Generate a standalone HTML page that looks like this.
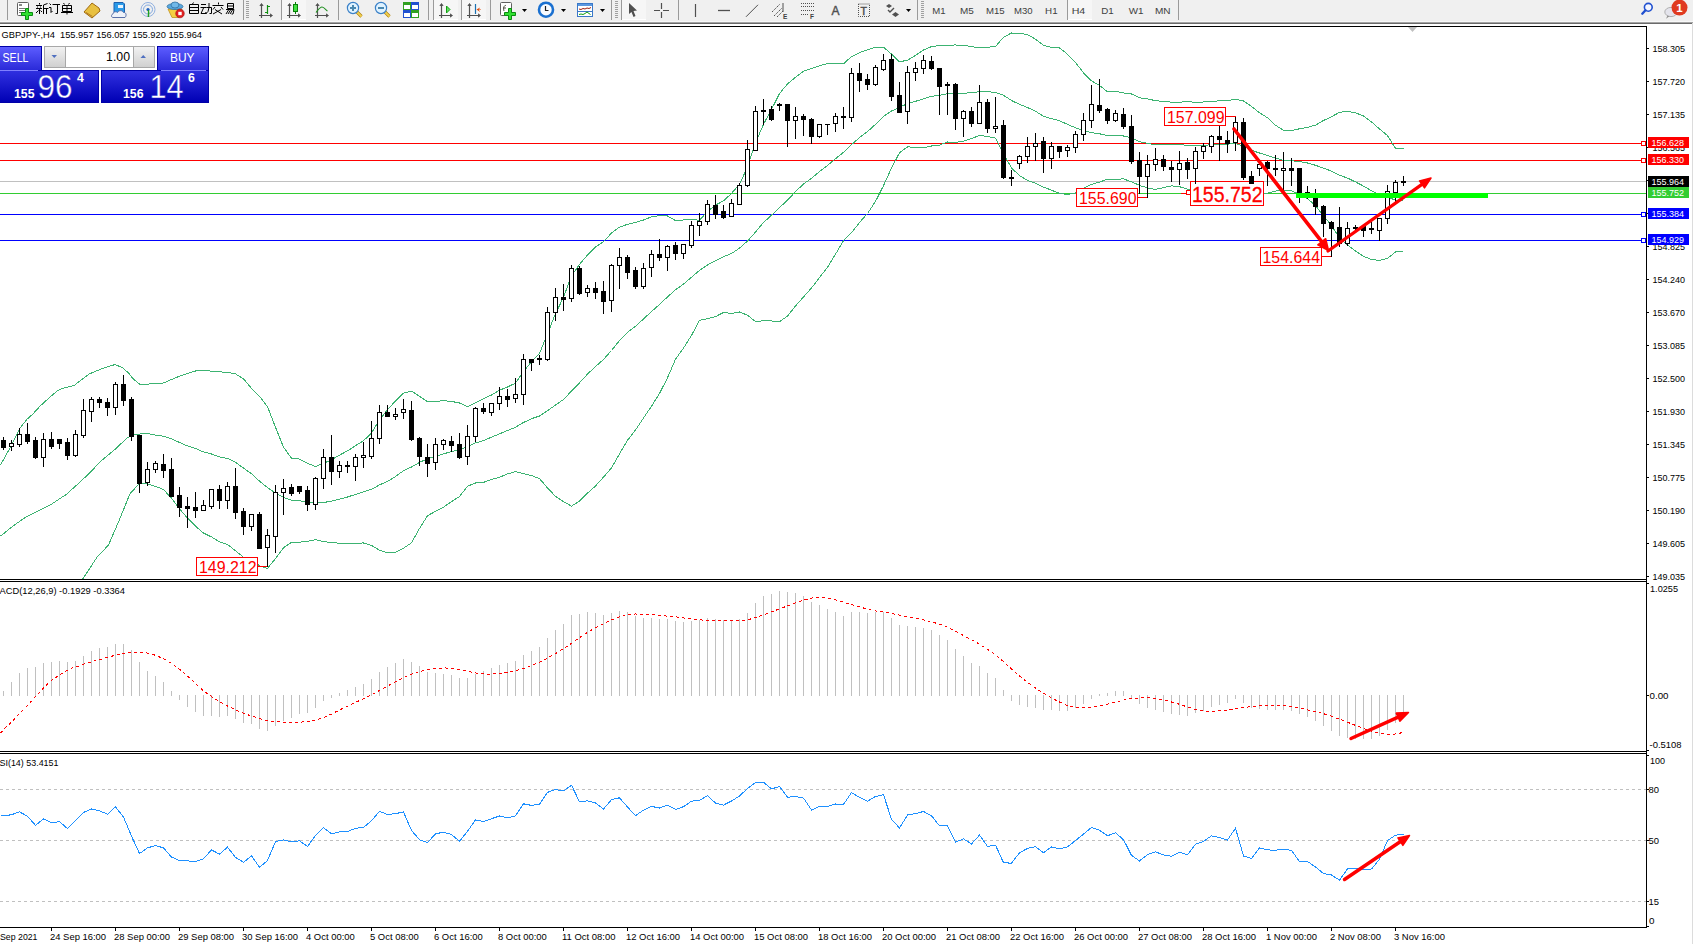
<!DOCTYPE html><html><head><meta charset="utf-8"><style>html,body{margin:0;padding:0;width:1693px;height:944px;overflow:hidden;background:#fff}text{font-family:"Liberation Sans",sans-serif}</style></head><body><svg width="1693" height="944" viewBox="0 0 1693 944" style="position:absolute;left:0;top:0;font-family:'Liberation Sans',sans-serif">
<defs><clipPath id="cm"><rect x="0" y="27" width="1646" height="552"/></clipPath><clipPath id="cd"><rect x="0" y="582" width="1646" height="169"/></clipPath><clipPath id="cr"><rect x="0" y="754" width="1646" height="173"/></clipPath><linearGradient id="gsell" x1="0" y1="0" x2="0" y2="1"><stop offset="0" stop-color="#5c5cff"/><stop offset="1" stop-color="#2a2ad8"/></linearGradient><linearGradient id="gsell2" x1="0" y1="0" x2="0" y2="1"><stop offset="0" stop-color="#3030e0"/><stop offset="1" stop-color="#0000b4"/></linearGradient><linearGradient id="gbtn" x1="0" y1="0" x2="0" y2="1"><stop offset="0" stop-color="#f2f2f2"/><stop offset="1" stop-color="#d0d0d0"/></linearGradient><linearGradient id="gtb" x1="0" y1="0" x2="0" y2="1"><stop offset="0" stop-color="#c8c8c8"/><stop offset="1" stop-color="#686868"/></linearGradient></defs>
<rect x="0" y="0" width="1693" height="944" fill="#ffffff"/>
<rect x="0" y="0" width="1693" height="22" fill="#f0f0f0"/>
<rect x="0" y="21" width="1693" height="1" fill="#f8f8f8"/><rect x="0" y="22" width="1693" height="1" fill="#a4a4a4"/><rect x="0" y="23" width="1693" height="1" fill="#6a6a6a"/>
<rect x="1692" y="23" width="1" height="921" fill="#dcdcdc"/>
<g clip-path="url(#cm)" shape-rendering="crispEdges">
<rect x="0" y="143" width="1646" height="1" fill="#ff0000"/>
<rect x="0" y="160" width="1646" height="1" fill="#ff0000"/>
<rect x="0" y="181" width="1646" height="1" fill="#c0c0c0"/>
<rect x="0" y="193" width="1646" height="1" fill="#32cd32"/>
<rect x="0" y="214" width="1646" height="1" fill="#0000ff"/>
<rect x="0" y="240" width="1646" height="1" fill="#0000ff"/>
</g>
<g clip-path="url(#cm)">
<polyline points="0.5,464.8 5.6,455.9 11.9,444.5 19.6,428.6 27.2,419.0 32.3,414.6 39.9,406.3 48.8,398.1 57.7,390.5 64.0,387.9 74.2,385.4 81.8,379.6 89.4,373.9 97.1,370.7 104.7,367.6 114.9,364.6 122.5,367.6 128.8,373.3 132.6,378.4 140.3,384.7 145.4,384.1 155.5,383.8 163.5,383.0 171.5,379.5 179.5,376.2 187.5,373.6 195.5,371.0 203.5,370.6 211.5,371.1 219.5,371.8 227.5,372.4 235.5,373.9 243.5,378.9 251.5,388.3 259.5,396.3 267.5,406.7 275.5,427.3 283.5,447.1 291.5,458.2 299.5,459.1 307.5,463.3 315.5,466.5 323.5,463.4 331.5,459.8 339.5,455.1 347.5,450.9 355.5,445.7 363.5,440.7 371.5,433.1 379.5,419.7 387.5,409.8 395.5,400.8 403.5,393.2 411.5,391.1 419.5,396.3 427.5,401.8 435.5,401.4 443.5,400.7 451.5,401.4 459.5,403.0 467.5,406.7 475.5,402.8 483.5,398.8 491.5,395.0 499.5,390.2 507.5,387.0 515.5,383.1 523.5,371.4 531.5,361.9 539.5,353.4 547.5,333.8 555.5,313.6 563.5,297.3 571.5,275.9 579.5,264.4 587.5,255.0 595.5,246.9 603.5,241.8 611.5,233.0 619.5,227.1 627.5,224.3 635.5,222.4 643.5,220.0 651.5,216.8 659.5,215.6 667.5,216.0 675.5,220.5 683.5,220.0 691.5,219.1 699.5,220.4 707.5,211.3 715.5,205.1 723.5,200.9 731.5,193.4 739.5,184.2 747.5,167.0 755.5,142.7 763.5,124.3 771.5,109.4 779.5,93.5 787.5,84.0 795.5,77.2 803.5,71.3 811.5,68.4 819.5,65.7 827.5,63.6 835.5,63.1 843.5,63.8 851.5,56.6 859.5,52.7 867.5,49.7 875.5,47.2 883.5,47.1 891.5,54.1 899.5,61.9 907.5,60.1 915.5,55.5 923.5,50.0 931.5,46.6 939.5,45.6 947.5,45.1 955.5,45.0 963.5,45.3 971.5,46.7 979.5,47.7 987.5,47.2 995.5,46.5 1003.5,37.2 1011.5,33.0 1019.5,33.2 1027.5,34.6 1035.5,39.2 1043.5,45.3 1051.5,47.3 1059.5,47.9 1067.5,54.2 1075.5,62.4 1083.5,72.9 1091.5,80.9 1099.5,85.4 1107.5,91.9 1115.5,91.2 1123.5,93.0 1131.5,94.0 1139.5,97.8 1147.5,98.8 1155.5,100.7 1163.5,101.4 1171.5,102.2 1179.5,102.1 1187.5,101.8 1195.5,102.2 1203.5,102.0 1211.5,101.4 1219.5,100.8 1227.5,100.7 1235.5,99.3 1243.5,101.0 1251.5,106.4 1259.5,112.8 1267.5,117.7 1275.5,125.2 1283.5,130.4 1291.5,130.6 1299.5,128.8 1307.5,127.4 1315.5,125.1 1323.5,120.5 1331.5,116.7 1339.5,112.4 1347.5,111.3 1355.5,112.8 1363.5,115.9 1371.5,121.9 1379.5,129.0 1387.5,135.6 1395.5,148.3 1403.5,148.8" fill="none" stroke="#3cb371" stroke-width="1" shape-rendering="crispEdges"/>
<polyline points="0.5,536.1 13.2,525.9 25.9,517.0 42.4,508.8 51.3,504.3 66.6,494.2 80.6,481.5 89.4,473.2 100.9,461.1 114.9,449.5 127.6,437.5 135.2,434.3 147.5,433.6 155.5,435.1 163.5,436.2 171.5,438.9 179.5,442.5 187.5,445.9 195.5,448.5 203.5,451.9 211.5,454.0 219.5,456.9 227.5,458.4 235.5,462.3 243.5,468.1 251.5,473.8 259.5,481.1 267.5,487.6 275.5,493.0 283.5,497.4 291.5,500.2 299.5,500.6 307.5,502.4 315.5,503.1 323.5,502.5 331.5,501.2 339.5,499.2 347.5,497.0 355.5,494.4 363.5,491.9 371.5,489.3 379.5,484.9 387.5,481.4 395.5,476.5 403.5,470.7 411.5,467.0 419.5,462.4 427.5,458.7 435.5,456.3 443.5,453.9 451.5,451.5 459.5,449.8 467.5,446.4 475.5,442.9 483.5,440.6 491.5,437.2 499.5,433.8 507.5,430.5 515.5,427.3 523.5,422.5 531.5,418.7 539.5,416.0 547.5,410.8 555.5,405.0 563.5,399.5 571.5,391.0 579.5,382.8 587.5,374.1 595.5,366.5 603.5,359.5 611.5,350.5 619.5,340.5 627.5,332.3 635.5,326.2 643.5,319.0 651.5,311.5 659.5,304.5 667.5,296.9 675.5,289.8 683.5,284.1 691.5,277.2 699.5,270.4 707.5,265.0 715.5,260.8 723.5,256.7 731.5,253.5 739.5,248.1 747.5,241.1 755.5,232.1 763.5,222.5 771.5,215.2 779.5,207.6 787.5,200.1 795.5,191.6 803.5,184.1 811.5,178.2 819.5,171.6 827.5,165.5 835.5,158.7 843.5,152.3 851.5,144.7 859.5,137.6 867.5,131.6 875.5,124.3 883.5,116.4 891.5,111.0 899.5,107.4 907.5,103.5 915.5,101.3 923.5,98.9 931.5,96.3 939.5,95.3 947.5,93.6 955.5,93.7 963.5,93.3 971.5,92.7 979.5,91.6 987.5,91.8 995.5,92.3 1003.5,95.3 1011.5,100.5 1019.5,104.4 1027.5,107.5 1035.5,111.3 1043.5,116.2 1051.5,118.7 1059.5,120.7 1067.5,124.4 1075.5,127.7 1083.5,130.7 1091.5,132.6 1099.5,133.8 1107.5,135.5 1115.5,135.2 1123.5,136.0 1131.5,137.9 1139.5,141.6 1147.5,143.3 1155.5,145.0 1163.5,144.5 1171.5,144.1 1179.5,144.4 1187.5,145.5 1195.5,145.9 1203.5,145.3 1211.5,144.8 1219.5,144.3 1227.5,144.1 1235.5,143.5 1243.5,146.3 1251.5,150.3 1259.5,153.0 1267.5,155.4 1275.5,158.2 1283.5,160.3 1291.5,160.7 1299.5,161.6 1307.5,163.0 1315.5,165.3 1323.5,168.2 1331.5,171.1 1339.5,175.1 1347.5,178.1 1355.5,181.9 1363.5,186.1 1371.5,190.7 1379.5,194.7 1387.5,197.1 1395.5,200.1 1403.5,200.3" fill="none" stroke="#3cb371" stroke-width="1" shape-rendering="crispEdges"/>
<polyline points="82.5,579.3 97.1,557.1 108.5,545.0 118.7,521.5 130.1,493.5 139.0,484.0 144.1,483.1 155.5,486.4 163.5,489.5 171.5,498.2 179.5,508.9 187.5,518.1 195.5,526.1 203.5,533.1 211.5,536.9 219.5,541.9 227.5,544.5 235.5,550.7 243.5,557.3 251.5,559.4 259.5,565.9 267.5,568.4 275.5,558.6 283.5,547.7 291.5,542.3 299.5,542.2 307.5,541.4 315.5,539.7 323.5,541.6 331.5,542.6 339.5,543.2 347.5,543.2 355.5,543.1 363.5,543.0 371.5,545.5 379.5,550.1 387.5,553.0 395.5,552.3 403.5,548.2 411.5,542.8 419.5,528.5 427.5,515.7 435.5,511.3 443.5,507.2 451.5,501.6 459.5,496.6 467.5,486.2 475.5,483.0 483.5,482.4 491.5,479.5 499.5,477.3 507.5,473.9 515.5,471.6 523.5,473.6 531.5,475.5 539.5,478.6 547.5,487.9 555.5,496.4 563.5,501.7 571.5,506.1 579.5,501.1 587.5,493.1 595.5,486.0 603.5,477.1 611.5,468.0 619.5,453.9 627.5,440.3 635.5,430.0 643.5,418.0 651.5,406.2 659.5,393.5 667.5,377.8 675.5,359.2 683.5,348.1 691.5,335.4 699.5,320.4 707.5,318.7 715.5,316.6 723.5,312.5 731.5,313.5 739.5,312.0 747.5,315.2 755.5,321.5 763.5,320.8 771.5,321.0 779.5,321.7 787.5,316.1 795.5,305.9 803.5,297.0 811.5,288.0 819.5,277.5 827.5,267.3 835.5,254.2 843.5,240.8 851.5,232.8 859.5,222.5 867.5,213.5 875.5,201.4 883.5,185.7 891.5,167.9 899.5,152.8 907.5,146.9 915.5,147.2 923.5,147.8 931.5,146.0 939.5,145.1 947.5,142.0 955.5,142.3 963.5,141.3 971.5,138.6 979.5,135.4 987.5,136.4 995.5,138.1 1003.5,153.4 1011.5,168.1 1019.5,175.5 1027.5,180.4 1035.5,183.3 1043.5,187.1 1051.5,190.2 1059.5,193.4 1067.5,194.6 1075.5,193.0 1083.5,188.5 1091.5,184.3 1099.5,182.2 1107.5,179.1 1115.5,179.3 1123.5,178.9 1131.5,181.8 1139.5,185.4 1147.5,187.9 1155.5,189.4 1163.5,187.6 1171.5,185.9 1179.5,186.7 1187.5,189.2 1195.5,189.7 1203.5,188.7 1211.5,188.3 1219.5,187.7 1227.5,187.5 1235.5,187.7 1243.5,191.6 1251.5,194.1 1259.5,193.1 1267.5,193.1 1275.5,191.1 1283.5,190.1 1291.5,190.8 1299.5,194.3 1307.5,198.7 1315.5,205.6 1323.5,215.9 1331.5,225.5 1339.5,237.8 1347.5,244.9 1355.5,251.1 1363.5,256.3 1371.5,259.6 1379.5,260.4 1387.5,258.5 1395.5,251.9 1403.5,251.7" fill="none" stroke="#3cb371" stroke-width="1" shape-rendering="crispEdges"/>
</g>
<g clip-path="url(#cm)">
<polyline points="1225.5,116.5 1235.5,116.5 1235.5,121.5" fill="none" stroke="#ff0000" stroke-width="1" shape-rendering="crispEdges"/>
<rect x="1164.5" y="107.5" width="61" height="18" fill="#fff" stroke="#ff0000" stroke-width="1" shape-rendering="crispEdges"/>
<text x="1167" y="123" font-size="16.4" fill="#ff0000" textLength="57.5" lengthAdjust="spacingAndGlyphs" xml:space="preserve">157.099</text>
<polyline points="1137.5,197.5 1147.5,197.5 1147.5,193.5" fill="none" stroke="#ff0000" stroke-width="1" shape-rendering="crispEdges"/>
<rect x="1076.5" y="188.5" width="61" height="18" fill="#fff" stroke="#ff0000" stroke-width="1" shape-rendering="crispEdges"/>
<text x="1079" y="204" font-size="16.4" fill="#ff0000" textLength="57.5" lengthAdjust="spacingAndGlyphs" xml:space="preserve">155.690</text>
<polyline points="1180.5,193.5 1190.5,193.5" fill="none" stroke="#ff0000" stroke-width="1" shape-rendering="crispEdges"/>
<rect x="1186.5" y="190.5" width="4" height="4" fill="#fff" stroke="#ff0000" stroke-width="1" shape-rendering="crispEdges"/>
<rect x="1190.5" y="181.5" width="73" height="24" fill="#fff" stroke="#ff0000" stroke-width="1" shape-rendering="crispEdges"/>
<text stroke="#ff0000" stroke-width="0.3" x="1192" y="202" font-size="21.5" fill="#ff0000" textLength="70.5" lengthAdjust="spacingAndGlyphs" xml:space="preserve">155.752</text>
<polyline points="1321.5,256.5 1331.5,256.5 1331.5,252.5" fill="none" stroke="#ff0000" stroke-width="1" shape-rendering="crispEdges"/>
<rect x="1260.5" y="247.5" width="61" height="18" fill="#fff" stroke="#ff0000" stroke-width="1" shape-rendering="crispEdges"/>
<text x="1262.5" y="263" font-size="16.4" fill="#ff0000" textLength="57.5" lengthAdjust="spacingAndGlyphs" xml:space="preserve">154.644</text>
<polyline points="257.5,566.5 267.5,566.5" fill="none" stroke="#ff0000" stroke-width="1" shape-rendering="crispEdges"/>
<rect x="196.5" y="557.5" width="61" height="18" fill="#fff" stroke="#ff0000" stroke-width="1" shape-rendering="crispEdges"/>
<text x="199" y="573" font-size="16.4" fill="#ff0000" textLength="57.5" lengthAdjust="spacingAndGlyphs" xml:space="preserve">149.212</text>
</g>
<g clip-path="url(#cm)" shape-rendering="crispEdges">
<rect x="3" y="437" width="1" height="13" fill="#000"/>
<rect x="1" y="440" width="5" height="8" fill="#000"/>
<rect x="11" y="440" width="1" height="11" fill="#000"/>
<rect x="9" y="443" width="5" height="4" fill="#000"/>
<rect x="10" y="444" width="3" height="2" fill="#fff"/>
<rect x="19" y="428" width="1" height="19" fill="#000"/>
<rect x="17" y="434" width="5" height="11" fill="#000"/>
<rect x="18" y="435" width="3" height="9" fill="#fff"/>
<rect x="27" y="423" width="1" height="21" fill="#000"/>
<rect x="25" y="434" width="5" height="8" fill="#000"/>
<rect x="35" y="437" width="1" height="22" fill="#000"/>
<rect x="33" y="440" width="5" height="18" fill="#000"/>
<rect x="43" y="433" width="1" height="34" fill="#000"/>
<rect x="41" y="439" width="5" height="19" fill="#000"/>
<rect x="42" y="440" width="3" height="17" fill="#fff"/>
<rect x="51" y="432" width="1" height="17" fill="#000"/>
<rect x="49" y="439" width="5" height="8" fill="#000"/>
<rect x="59" y="439" width="1" height="10" fill="#000"/>
<rect x="57" y="439" width="5" height="5" fill="#000"/>
<rect x="67" y="438" width="1" height="22" fill="#000"/>
<rect x="65" y="442" width="5" height="14" fill="#000"/>
<rect x="75" y="430" width="1" height="27" fill="#000"/>
<rect x="73" y="434" width="5" height="22" fill="#000"/>
<rect x="74" y="435" width="3" height="20" fill="#fff"/>
<rect x="83" y="399" width="1" height="39" fill="#000"/>
<rect x="81" y="410" width="5" height="26" fill="#000"/>
<rect x="82" y="411" width="3" height="24" fill="#fff"/>
<rect x="91" y="397" width="1" height="25" fill="#000"/>
<rect x="89" y="399" width="5" height="13" fill="#000"/>
<rect x="90" y="400" width="3" height="11" fill="#fff"/>
<rect x="99" y="397" width="1" height="11" fill="#000"/>
<rect x="97" y="399" width="5" height="4" fill="#000"/>
<rect x="107" y="398" width="1" height="18" fill="#000"/>
<rect x="105" y="402" width="5" height="6" fill="#000"/>
<rect x="115" y="382" width="1" height="33" fill="#000"/>
<rect x="113" y="384" width="5" height="24" fill="#000"/>
<rect x="114" y="385" width="3" height="22" fill="#fff"/>
<rect x="123" y="375" width="1" height="31" fill="#000"/>
<rect x="121" y="384" width="5" height="17" fill="#000"/>
<rect x="131" y="397" width="1" height="44" fill="#000"/>
<rect x="129" y="399" width="5" height="38" fill="#000"/>
<rect x="139" y="435" width="1" height="58" fill="#000"/>
<rect x="137" y="435" width="5" height="49" fill="#000"/>
<rect x="147" y="462" width="1" height="24" fill="#000"/>
<rect x="145" y="469" width="5" height="14" fill="#000"/>
<rect x="146" y="470" width="3" height="12" fill="#fff"/>
<rect x="155" y="461" width="1" height="12" fill="#000"/>
<rect x="153" y="463" width="5" height="7" fill="#000"/>
<rect x="154" y="464" width="3" height="5" fill="#fff"/>
<rect x="163" y="454" width="1" height="24" fill="#000"/>
<rect x="161" y="464" width="5" height="7" fill="#000"/>
<rect x="171" y="458" width="1" height="39" fill="#000"/>
<rect x="169" y="469" width="5" height="28" fill="#000"/>
<rect x="179" y="487" width="1" height="30" fill="#000"/>
<rect x="177" y="495" width="5" height="13" fill="#000"/>
<rect x="187" y="497" width="1" height="31" fill="#000"/>
<rect x="185" y="506" width="5" height="3" fill="#000"/>
<rect x="195" y="492" width="1" height="26" fill="#000"/>
<rect x="193" y="507" width="5" height="4" fill="#000"/>
<rect x="203" y="500" width="1" height="11" fill="#000"/>
<rect x="201" y="505" width="5" height="6" fill="#000"/>
<rect x="202" y="506" width="3" height="4" fill="#fff"/>
<rect x="211" y="489" width="1" height="20" fill="#000"/>
<rect x="209" y="489" width="5" height="18" fill="#000"/>
<rect x="210" y="490" width="3" height="16" fill="#fff"/>
<rect x="219" y="485" width="1" height="24" fill="#000"/>
<rect x="217" y="489" width="5" height="12" fill="#000"/>
<rect x="227" y="482" width="1" height="27" fill="#000"/>
<rect x="225" y="486" width="5" height="15" fill="#000"/>
<rect x="226" y="487" width="3" height="13" fill="#fff"/>
<rect x="235" y="468" width="1" height="51" fill="#000"/>
<rect x="233" y="486" width="5" height="27" fill="#000"/>
<rect x="243" y="508" width="1" height="27" fill="#000"/>
<rect x="241" y="511" width="5" height="16" fill="#000"/>
<rect x="251" y="514" width="1" height="17" fill="#000"/>
<rect x="249" y="514" width="5" height="13" fill="#000"/>
<rect x="250" y="515" width="3" height="11" fill="#fff"/>
<rect x="259" y="512" width="1" height="37" fill="#000"/>
<rect x="257" y="514" width="5" height="35" fill="#000"/>
<rect x="267" y="529" width="1" height="38" fill="#000"/>
<rect x="265" y="535" width="5" height="13" fill="#000"/>
<rect x="266" y="536" width="3" height="11" fill="#fff"/>
<rect x="275" y="485" width="1" height="68" fill="#000"/>
<rect x="273" y="492" width="5" height="45" fill="#000"/>
<rect x="274" y="493" width="3" height="43" fill="#fff"/>
<rect x="283" y="479" width="1" height="36" fill="#000"/>
<rect x="281" y="488" width="5" height="5" fill="#000"/>
<rect x="282" y="489" width="3" height="3" fill="#fff"/>
<rect x="291" y="484" width="1" height="12" fill="#000"/>
<rect x="289" y="487" width="5" height="7" fill="#000"/>
<rect x="299" y="486" width="1" height="8" fill="#000"/>
<rect x="297" y="486" width="5" height="6" fill="#000"/>
<rect x="307" y="486" width="1" height="25" fill="#000"/>
<rect x="305" y="490" width="5" height="15" fill="#000"/>
<rect x="315" y="477" width="1" height="33" fill="#000"/>
<rect x="313" y="478" width="5" height="27" fill="#000"/>
<rect x="314" y="479" width="3" height="25" fill="#fff"/>
<rect x="323" y="449" width="1" height="40" fill="#000"/>
<rect x="321" y="457" width="5" height="22" fill="#000"/>
<rect x="322" y="458" width="3" height="20" fill="#fff"/>
<rect x="331" y="435" width="1" height="50" fill="#000"/>
<rect x="329" y="457" width="5" height="15" fill="#000"/>
<rect x="339" y="461" width="1" height="17" fill="#000"/>
<rect x="337" y="465" width="5" height="7" fill="#000"/>
<rect x="338" y="466" width="3" height="5" fill="#fff"/>
<rect x="347" y="461" width="1" height="12" fill="#000"/>
<rect x="345" y="465" width="5" height="2" fill="#000"/>
<rect x="355" y="454" width="1" height="27" fill="#000"/>
<rect x="353" y="457" width="5" height="10" fill="#000"/>
<rect x="354" y="458" width="3" height="8" fill="#fff"/>
<rect x="363" y="442" width="1" height="26" fill="#000"/>
<rect x="361" y="455" width="5" height="3" fill="#000"/>
<rect x="362" y="456" width="3" height="1" fill="#fff"/>
<rect x="371" y="421" width="1" height="38" fill="#000"/>
<rect x="369" y="438" width="5" height="19" fill="#000"/>
<rect x="370" y="439" width="3" height="17" fill="#fff"/>
<rect x="379" y="405" width="1" height="39" fill="#000"/>
<rect x="377" y="412" width="5" height="27" fill="#000"/>
<rect x="378" y="413" width="3" height="25" fill="#fff"/>
<rect x="387" y="405" width="1" height="12" fill="#000"/>
<rect x="385" y="412" width="5" height="5" fill="#000"/>
<rect x="395" y="408" width="1" height="12" fill="#000"/>
<rect x="393" y="414" width="5" height="3" fill="#000"/>
<rect x="394" y="415" width="3" height="1" fill="#fff"/>
<rect x="403" y="399" width="1" height="20" fill="#000"/>
<rect x="401" y="409" width="5" height="4" fill="#000"/>
<rect x="402" y="410" width="3" height="2" fill="#fff"/>
<rect x="411" y="401" width="1" height="40" fill="#000"/>
<rect x="409" y="410" width="5" height="30" fill="#000"/>
<rect x="419" y="437" width="1" height="29" fill="#000"/>
<rect x="417" y="438" width="5" height="19" fill="#000"/>
<rect x="427" y="444" width="1" height="33" fill="#000"/>
<rect x="425" y="457" width="5" height="7" fill="#000"/>
<rect x="435" y="438" width="1" height="32" fill="#000"/>
<rect x="433" y="444" width="5" height="19" fill="#000"/>
<rect x="434" y="445" width="3" height="17" fill="#fff"/>
<rect x="443" y="439" width="1" height="11" fill="#000"/>
<rect x="441" y="440" width="5" height="5" fill="#000"/>
<rect x="442" y="441" width="3" height="3" fill="#fff"/>
<rect x="451" y="436" width="1" height="16" fill="#000"/>
<rect x="449" y="441" width="5" height="5" fill="#000"/>
<rect x="459" y="433" width="1" height="26" fill="#000"/>
<rect x="457" y="444" width="5" height="14" fill="#000"/>
<rect x="467" y="425" width="1" height="40" fill="#000"/>
<rect x="465" y="436" width="5" height="21" fill="#000"/>
<rect x="466" y="437" width="3" height="19" fill="#fff"/>
<rect x="475" y="407" width="1" height="35" fill="#000"/>
<rect x="473" y="408" width="5" height="29" fill="#000"/>
<rect x="474" y="409" width="3" height="27" fill="#fff"/>
<rect x="483" y="403" width="1" height="11" fill="#000"/>
<rect x="481" y="408" width="5" height="4" fill="#000"/>
<rect x="491" y="403" width="1" height="13" fill="#000"/>
<rect x="489" y="403" width="5" height="10" fill="#000"/>
<rect x="490" y="404" width="3" height="8" fill="#fff"/>
<rect x="499" y="387" width="1" height="23" fill="#000"/>
<rect x="497" y="396" width="5" height="8" fill="#000"/>
<rect x="498" y="397" width="3" height="6" fill="#fff"/>
<rect x="507" y="389" width="1" height="18" fill="#000"/>
<rect x="505" y="396" width="5" height="4" fill="#000"/>
<rect x="515" y="378" width="1" height="25" fill="#000"/>
<rect x="513" y="394" width="5" height="5" fill="#000"/>
<rect x="514" y="395" width="3" height="3" fill="#fff"/>
<rect x="523" y="354" width="1" height="51" fill="#000"/>
<rect x="521" y="359" width="5" height="36" fill="#000"/>
<rect x="522" y="360" width="3" height="34" fill="#fff"/>
<rect x="531" y="359" width="1" height="12" fill="#000"/>
<rect x="529" y="359" width="5" height="4" fill="#000"/>
<rect x="539" y="355" width="1" height="10" fill="#000"/>
<rect x="537" y="358" width="5" height="2" fill="#000"/>
<rect x="547" y="307" width="1" height="54" fill="#000"/>
<rect x="545" y="312" width="5" height="48" fill="#000"/>
<rect x="546" y="313" width="3" height="46" fill="#fff"/>
<rect x="555" y="288" width="1" height="33" fill="#000"/>
<rect x="553" y="297" width="5" height="16" fill="#000"/>
<rect x="554" y="298" width="3" height="14" fill="#fff"/>
<rect x="563" y="284" width="1" height="27" fill="#000"/>
<rect x="561" y="297" width="5" height="3" fill="#000"/>
<rect x="571" y="265" width="1" height="37" fill="#000"/>
<rect x="569" y="268" width="5" height="31" fill="#000"/>
<rect x="570" y="269" width="3" height="29" fill="#fff"/>
<rect x="579" y="266" width="1" height="29" fill="#000"/>
<rect x="577" y="268" width="5" height="26" fill="#000"/>
<rect x="587" y="285" width="1" height="12" fill="#000"/>
<rect x="585" y="288" width="5" height="5" fill="#000"/>
<rect x="586" y="289" width="3" height="3" fill="#fff"/>
<rect x="595" y="282" width="1" height="17" fill="#000"/>
<rect x="593" y="288" width="5" height="5" fill="#000"/>
<rect x="603" y="281" width="1" height="33" fill="#000"/>
<rect x="601" y="291" width="5" height="11" fill="#000"/>
<rect x="611" y="264" width="1" height="48" fill="#000"/>
<rect x="609" y="265" width="5" height="36" fill="#000"/>
<rect x="610" y="266" width="3" height="34" fill="#fff"/>
<rect x="619" y="248" width="1" height="41" fill="#000"/>
<rect x="617" y="257" width="5" height="9" fill="#000"/>
<rect x="618" y="258" width="3" height="7" fill="#fff"/>
<rect x="627" y="255" width="1" height="24" fill="#000"/>
<rect x="625" y="257" width="5" height="16" fill="#000"/>
<rect x="635" y="267" width="1" height="22" fill="#000"/>
<rect x="633" y="270" width="5" height="17" fill="#000"/>
<rect x="643" y="263" width="1" height="26" fill="#000"/>
<rect x="641" y="268" width="5" height="19" fill="#000"/>
<rect x="642" y="269" width="3" height="17" fill="#fff"/>
<rect x="651" y="250" width="1" height="27" fill="#000"/>
<rect x="649" y="254" width="5" height="14" fill="#000"/>
<rect x="650" y="255" width="3" height="12" fill="#fff"/>
<rect x="659" y="239" width="1" height="22" fill="#000"/>
<rect x="657" y="254" width="5" height="4" fill="#000"/>
<rect x="667" y="245" width="1" height="26" fill="#000"/>
<rect x="665" y="246" width="5" height="12" fill="#000"/>
<rect x="666" y="247" width="3" height="10" fill="#fff"/>
<rect x="675" y="242" width="1" height="18" fill="#000"/>
<rect x="673" y="245" width="5" height="9" fill="#000"/>
<rect x="683" y="244" width="1" height="15" fill="#000"/>
<rect x="681" y="244" width="5" height="10" fill="#000"/>
<rect x="682" y="245" width="3" height="8" fill="#fff"/>
<rect x="691" y="221" width="1" height="27" fill="#000"/>
<rect x="689" y="225" width="5" height="21" fill="#000"/>
<rect x="690" y="226" width="3" height="19" fill="#fff"/>
<rect x="699" y="213" width="1" height="23" fill="#000"/>
<rect x="697" y="221" width="5" height="5" fill="#000"/>
<rect x="698" y="222" width="3" height="3" fill="#fff"/>
<rect x="707" y="200" width="1" height="25" fill="#000"/>
<rect x="705" y="204" width="5" height="18" fill="#000"/>
<rect x="706" y="205" width="3" height="16" fill="#fff"/>
<rect x="715" y="195" width="1" height="24" fill="#000"/>
<rect x="713" y="205" width="5" height="10" fill="#000"/>
<rect x="723" y="205" width="1" height="14" fill="#000"/>
<rect x="721" y="211" width="5" height="7" fill="#000"/>
<rect x="731" y="199" width="1" height="18" fill="#000"/>
<rect x="729" y="203" width="5" height="14" fill="#000"/>
<rect x="730" y="204" width="3" height="12" fill="#fff"/>
<rect x="739" y="183" width="1" height="22" fill="#000"/>
<rect x="737" y="185" width="5" height="20" fill="#000"/>
<rect x="738" y="186" width="3" height="18" fill="#fff"/>
<rect x="747" y="140" width="1" height="47" fill="#000"/>
<rect x="745" y="149" width="5" height="37" fill="#000"/>
<rect x="746" y="150" width="3" height="35" fill="#fff"/>
<rect x="755" y="106" width="1" height="45" fill="#000"/>
<rect x="753" y="111" width="5" height="40" fill="#000"/>
<rect x="754" y="112" width="3" height="38" fill="#fff"/>
<rect x="763" y="99" width="1" height="26" fill="#000"/>
<rect x="761" y="110" width="5" height="2" fill="#000"/>
<rect x="771" y="106" width="1" height="15" fill="#000"/>
<rect x="769" y="109" width="5" height="11" fill="#000"/>
<rect x="779" y="103" width="1" height="8" fill="#000"/>
<rect x="777" y="104" width="5" height="2" fill="#000"/>
<rect x="787" y="104" width="1" height="43" fill="#000"/>
<rect x="785" y="104" width="5" height="17" fill="#000"/>
<rect x="795" y="107" width="1" height="32" fill="#000"/>
<rect x="793" y="116" width="5" height="5" fill="#000"/>
<rect x="794" y="117" width="3" height="3" fill="#fff"/>
<rect x="803" y="114" width="1" height="22" fill="#000"/>
<rect x="801" y="116" width="5" height="4" fill="#000"/>
<rect x="811" y="118" width="1" height="26" fill="#000"/>
<rect x="809" y="119" width="5" height="18" fill="#000"/>
<rect x="819" y="124" width="1" height="14" fill="#000"/>
<rect x="817" y="124" width="5" height="13" fill="#000"/>
<rect x="818" y="125" width="3" height="11" fill="#fff"/>
<rect x="827" y="124" width="1" height="11" fill="#000"/>
<rect x="825" y="124" width="5" height="1" fill="#000"/>
<rect x="835" y="113" width="1" height="19" fill="#000"/>
<rect x="833" y="116" width="5" height="8" fill="#000"/>
<rect x="834" y="117" width="3" height="6" fill="#fff"/>
<rect x="843" y="107" width="1" height="22" fill="#000"/>
<rect x="841" y="116" width="5" height="2" fill="#000"/>
<rect x="851" y="68" width="1" height="54" fill="#000"/>
<rect x="849" y="73" width="5" height="45" fill="#000"/>
<rect x="850" y="74" width="3" height="43" fill="#fff"/>
<rect x="859" y="63" width="1" height="29" fill="#000"/>
<rect x="857" y="73" width="5" height="8" fill="#000"/>
<rect x="867" y="74" width="1" height="16" fill="#000"/>
<rect x="865" y="79" width="5" height="6" fill="#000"/>
<rect x="875" y="65" width="1" height="21" fill="#000"/>
<rect x="873" y="67" width="5" height="18" fill="#000"/>
<rect x="874" y="68" width="3" height="16" fill="#fff"/>
<rect x="883" y="54" width="1" height="17" fill="#000"/>
<rect x="881" y="60" width="5" height="10" fill="#000"/>
<rect x="882" y="61" width="3" height="8" fill="#fff"/>
<rect x="891" y="54" width="1" height="47" fill="#000"/>
<rect x="889" y="59" width="5" height="38" fill="#000"/>
<rect x="899" y="82" width="1" height="31" fill="#000"/>
<rect x="897" y="95" width="5" height="18" fill="#000"/>
<rect x="907" y="66" width="1" height="58" fill="#000"/>
<rect x="905" y="72" width="5" height="40" fill="#000"/>
<rect x="906" y="73" width="3" height="38" fill="#fff"/>
<rect x="915" y="62" width="1" height="19" fill="#000"/>
<rect x="913" y="68" width="5" height="5" fill="#000"/>
<rect x="914" y="69" width="3" height="3" fill="#fff"/>
<rect x="923" y="55" width="1" height="19" fill="#000"/>
<rect x="921" y="60" width="5" height="9" fill="#000"/>
<rect x="922" y="61" width="3" height="7" fill="#fff"/>
<rect x="931" y="56" width="1" height="14" fill="#000"/>
<rect x="929" y="61" width="5" height="8" fill="#000"/>
<rect x="939" y="68" width="1" height="47" fill="#000"/>
<rect x="937" y="68" width="5" height="19" fill="#000"/>
<rect x="947" y="82" width="1" height="33" fill="#000"/>
<rect x="945" y="84" width="5" height="2" fill="#000"/>
<rect x="955" y="83" width="1" height="47" fill="#000"/>
<rect x="953" y="84" width="5" height="35" fill="#000"/>
<rect x="963" y="110" width="1" height="27" fill="#000"/>
<rect x="961" y="111" width="5" height="8" fill="#000"/>
<rect x="962" y="112" width="3" height="6" fill="#fff"/>
<rect x="971" y="107" width="1" height="20" fill="#000"/>
<rect x="969" y="111" width="5" height="13" fill="#000"/>
<rect x="979" y="85" width="1" height="39" fill="#000"/>
<rect x="977" y="102" width="5" height="22" fill="#000"/>
<rect x="978" y="103" width="3" height="20" fill="#fff"/>
<rect x="987" y="99" width="1" height="34" fill="#000"/>
<rect x="985" y="102" width="5" height="27" fill="#000"/>
<rect x="995" y="97" width="1" height="36" fill="#000"/>
<rect x="993" y="126" width="5" height="3" fill="#000"/>
<rect x="994" y="127" width="3" height="1" fill="#fff"/>
<rect x="1003" y="120" width="1" height="59" fill="#000"/>
<rect x="1001" y="125" width="5" height="53" fill="#000"/>
<rect x="1011" y="170" width="1" height="16" fill="#000"/>
<rect x="1009" y="177" width="5" height="2" fill="#000"/>
<rect x="1019" y="155" width="1" height="14" fill="#000"/>
<rect x="1017" y="156" width="5" height="8" fill="#000"/>
<rect x="1018" y="157" width="3" height="6" fill="#fff"/>
<rect x="1027" y="137" width="1" height="26" fill="#000"/>
<rect x="1025" y="146" width="5" height="11" fill="#000"/>
<rect x="1026" y="147" width="3" height="9" fill="#fff"/>
<rect x="1035" y="133" width="1" height="28" fill="#000"/>
<rect x="1033" y="143" width="5" height="4" fill="#000"/>
<rect x="1034" y="144" width="3" height="2" fill="#fff"/>
<rect x="1043" y="137" width="1" height="36" fill="#000"/>
<rect x="1041" y="141" width="5" height="18" fill="#000"/>
<rect x="1051" y="142" width="1" height="27" fill="#000"/>
<rect x="1049" y="146" width="5" height="13" fill="#000"/>
<rect x="1050" y="147" width="3" height="11" fill="#fff"/>
<rect x="1059" y="146" width="1" height="12" fill="#000"/>
<rect x="1057" y="146" width="5" height="6" fill="#000"/>
<rect x="1067" y="145" width="1" height="12" fill="#000"/>
<rect x="1065" y="147" width="5" height="4" fill="#000"/>
<rect x="1066" y="148" width="3" height="2" fill="#fff"/>
<rect x="1075" y="131" width="1" height="22" fill="#000"/>
<rect x="1073" y="134" width="5" height="14" fill="#000"/>
<rect x="1074" y="135" width="3" height="12" fill="#fff"/>
<rect x="1083" y="113" width="1" height="28" fill="#000"/>
<rect x="1081" y="120" width="5" height="15" fill="#000"/>
<rect x="1082" y="121" width="3" height="13" fill="#fff"/>
<rect x="1091" y="85" width="1" height="43" fill="#000"/>
<rect x="1089" y="104" width="5" height="17" fill="#000"/>
<rect x="1090" y="105" width="3" height="15" fill="#fff"/>
<rect x="1099" y="79" width="1" height="34" fill="#000"/>
<rect x="1097" y="105" width="5" height="6" fill="#000"/>
<rect x="1107" y="108" width="1" height="16" fill="#000"/>
<rect x="1105" y="109" width="5" height="12" fill="#000"/>
<rect x="1115" y="110" width="1" height="12" fill="#000"/>
<rect x="1113" y="113" width="5" height="8" fill="#000"/>
<rect x="1114" y="114" width="3" height="6" fill="#fff"/>
<rect x="1123" y="108" width="1" height="21" fill="#000"/>
<rect x="1121" y="114" width="5" height="13" fill="#000"/>
<rect x="1131" y="115" width="1" height="49" fill="#000"/>
<rect x="1129" y="126" width="5" height="36" fill="#000"/>
<rect x="1139" y="152" width="1" height="42" fill="#000"/>
<rect x="1137" y="160" width="5" height="17" fill="#000"/>
<rect x="1147" y="155" width="1" height="43" fill="#000"/>
<rect x="1145" y="164" width="5" height="13" fill="#000"/>
<rect x="1146" y="165" width="3" height="11" fill="#fff"/>
<rect x="1155" y="148" width="1" height="23" fill="#000"/>
<rect x="1153" y="159" width="5" height="6" fill="#000"/>
<rect x="1154" y="160" width="3" height="4" fill="#fff"/>
<rect x="1163" y="155" width="1" height="16" fill="#000"/>
<rect x="1161" y="159" width="5" height="8" fill="#000"/>
<rect x="1171" y="161" width="1" height="21" fill="#000"/>
<rect x="1169" y="167" width="5" height="3" fill="#000"/>
<rect x="1179" y="151" width="1" height="34" fill="#000"/>
<rect x="1177" y="163" width="5" height="7" fill="#000"/>
<rect x="1178" y="164" width="3" height="5" fill="#fff"/>
<rect x="1187" y="158" width="1" height="21" fill="#000"/>
<rect x="1185" y="162" width="5" height="8" fill="#000"/>
<rect x="1195" y="147" width="1" height="37" fill="#000"/>
<rect x="1193" y="151" width="5" height="18" fill="#000"/>
<rect x="1194" y="152" width="3" height="16" fill="#fff"/>
<rect x="1203" y="143" width="1" height="16" fill="#000"/>
<rect x="1201" y="146" width="5" height="6" fill="#000"/>
<rect x="1202" y="147" width="3" height="4" fill="#fff"/>
<rect x="1211" y="135" width="1" height="18" fill="#000"/>
<rect x="1209" y="136" width="5" height="11" fill="#000"/>
<rect x="1210" y="137" width="3" height="9" fill="#fff"/>
<rect x="1219" y="126" width="1" height="35" fill="#000"/>
<rect x="1217" y="136" width="5" height="4" fill="#000"/>
<rect x="1227" y="131" width="1" height="22" fill="#000"/>
<rect x="1225" y="140" width="5" height="4" fill="#000"/>
<rect x="1235" y="117" width="1" height="34" fill="#000"/>
<rect x="1233" y="122" width="5" height="21" fill="#000"/>
<rect x="1234" y="123" width="3" height="19" fill="#fff"/>
<rect x="1243" y="118" width="1" height="62" fill="#000"/>
<rect x="1241" y="122" width="5" height="56" fill="#000"/>
<rect x="1251" y="171" width="1" height="13" fill="#000"/>
<rect x="1249" y="176" width="5" height="8" fill="#000"/>
<rect x="1259" y="162" width="1" height="14" fill="#000"/>
<rect x="1257" y="164" width="5" height="5" fill="#000"/>
<rect x="1258" y="165" width="3" height="3" fill="#fff"/>
<rect x="1267" y="161" width="1" height="25" fill="#000"/>
<rect x="1265" y="162" width="5" height="7" fill="#000"/>
<rect x="1275" y="155" width="1" height="21" fill="#000"/>
<rect x="1273" y="168" width="5" height="2" fill="#000"/>
<rect x="1283" y="152" width="1" height="39" fill="#000"/>
<rect x="1281" y="168" width="5" height="3" fill="#000"/>
<rect x="1282" y="169" width="3" height="1" fill="#fff"/>
<rect x="1291" y="158" width="1" height="28" fill="#000"/>
<rect x="1289" y="168" width="5" height="3" fill="#000"/>
<rect x="1299" y="168" width="1" height="35" fill="#000"/>
<rect x="1297" y="168" width="5" height="26" fill="#000"/>
<rect x="1307" y="186" width="1" height="13" fill="#000"/>
<rect x="1305" y="192" width="5" height="2" fill="#000"/>
<rect x="1315" y="189" width="1" height="26" fill="#000"/>
<rect x="1313" y="198" width="5" height="9" fill="#000"/>
<rect x="1323" y="205" width="1" height="32" fill="#000"/>
<rect x="1321" y="206" width="5" height="18" fill="#000"/>
<rect x="1331" y="221" width="1" height="36" fill="#000"/>
<rect x="1329" y="222" width="5" height="7" fill="#000"/>
<rect x="1339" y="207" width="1" height="40" fill="#000"/>
<rect x="1337" y="227" width="5" height="17" fill="#000"/>
<rect x="1347" y="222" width="1" height="24" fill="#000"/>
<rect x="1345" y="228" width="5" height="16" fill="#000"/>
<rect x="1346" y="229" width="3" height="14" fill="#fff"/>
<rect x="1355" y="225" width="1" height="8" fill="#000"/>
<rect x="1353" y="227" width="5" height="2" fill="#000"/>
<rect x="1363" y="226" width="1" height="11" fill="#000"/>
<rect x="1361" y="226" width="5" height="5" fill="#000"/>
<rect x="1371" y="222" width="1" height="12" fill="#000"/>
<rect x="1369" y="228" width="5" height="2" fill="#000"/>
<rect x="1379" y="218" width="1" height="23" fill="#000"/>
<rect x="1377" y="218" width="5" height="13" fill="#000"/>
<rect x="1378" y="219" width="3" height="11" fill="#fff"/>
<rect x="1387" y="185" width="1" height="39" fill="#000"/>
<rect x="1385" y="191" width="5" height="28" fill="#000"/>
<rect x="1386" y="192" width="3" height="26" fill="#fff"/>
<rect x="1395" y="180" width="1" height="25" fill="#000"/>
<rect x="1393" y="182" width="5" height="11" fill="#000"/>
<rect x="1394" y="183" width="3" height="9" fill="#fff"/>
<rect x="1403" y="176" width="1" height="10" fill="#000"/>
<rect x="1401" y="181" width="5" height="2" fill="#000"/>
</g>
<g clip-path="url(#cm)">
<rect x="1296" y="193" width="192" height="5" fill="#00ff00" shape-rendering="crispEdges"/>
<line x1="1234" y1="129" x2="1323.0" y2="243.4" stroke="#ff0000" stroke-width="3.6" stroke-linecap="round"/><polygon points="1328.5,250.5 1317.8,244.9 1325.7,238.7" fill="#ff0000" stroke="#ff0000" stroke-width="1.5" stroke-linejoin="round"/>
<line x1="1328" y1="251" x2="1423.7" y2="183.2" stroke="#ff0000" stroke-width="3.3" stroke-linecap="round"/><polygon points="1431,178 1424.5,187.9 1419.5,180.9" fill="#ff0000" stroke="#ff0000" stroke-width="1.5" stroke-linejoin="round"/>
</g>
<g shape-rendering="crispEdges" fill="#000">
<rect x="0" y="26" width="1647" height="1"/>
<rect x="1646" y="26" width="1" height="902"/>
<rect x="0" y="579" width="1647" height="1"/>
<rect x="0" y="581" width="1647" height="1"/>
<rect x="0" y="751" width="1647" height="1"/>
<rect x="0" y="753" width="1647" height="1"/>
<rect x="0" y="927" width="1647" height="1"/>
</g>
<polygon points="1408,27 1417,27 1412.5,32" fill="#c0c0c0"/>
<g font-size="9.6" fill="#000">
<rect x="1647" y="48" width="2" height="1" fill="#000" shape-rendering="crispEdges"/>
<text x="1652.5" y="52" font-size="9.5" fill="#000" textLength="32.5" lengthAdjust="spacingAndGlyphs" xml:space="preserve">158.305</text>
<rect x="1647" y="81" width="2" height="1" fill="#000" shape-rendering="crispEdges"/>
<text x="1652.5" y="85" font-size="9.5" fill="#000" textLength="32.5" lengthAdjust="spacingAndGlyphs" xml:space="preserve">157.720</text>
<rect x="1647" y="114" width="2" height="1" fill="#000" shape-rendering="crispEdges"/>
<text x="1652.5" y="118" font-size="9.5" fill="#000" textLength="32.5" lengthAdjust="spacingAndGlyphs" xml:space="preserve">157.135</text>
<rect x="1647" y="147" width="2" height="1" fill="#000" shape-rendering="crispEdges"/>
<text x="1652.5" y="151" font-size="9.5" fill="#000" textLength="32.5" lengthAdjust="spacingAndGlyphs" xml:space="preserve">156.565</text>
<rect x="1647" y="180" width="2" height="1" fill="#000" shape-rendering="crispEdges"/>
<text x="1652.5" y="184" font-size="9.5" fill="#000" textLength="32.5" lengthAdjust="spacingAndGlyphs" xml:space="preserve">155.980</text>
<rect x="1647" y="213" width="2" height="1" fill="#000" shape-rendering="crispEdges"/>
<text x="1652.5" y="217" font-size="9.5" fill="#000" textLength="32.5" lengthAdjust="spacingAndGlyphs" xml:space="preserve">155.395</text>
<rect x="1647" y="246" width="2" height="1" fill="#000" shape-rendering="crispEdges"/>
<text x="1652.5" y="250" font-size="9.5" fill="#000" textLength="32.5" lengthAdjust="spacingAndGlyphs" xml:space="preserve">154.825</text>
<rect x="1647" y="279" width="2" height="1" fill="#000" shape-rendering="crispEdges"/>
<text x="1652.5" y="283" font-size="9.5" fill="#000" textLength="32.5" lengthAdjust="spacingAndGlyphs" xml:space="preserve">154.240</text>
<rect x="1647" y="312" width="2" height="1" fill="#000" shape-rendering="crispEdges"/>
<text x="1652.5" y="316" font-size="9.5" fill="#000" textLength="32.5" lengthAdjust="spacingAndGlyphs" xml:space="preserve">153.670</text>
<rect x="1647" y="345" width="2" height="1" fill="#000" shape-rendering="crispEdges"/>
<text x="1652.5" y="349" font-size="9.5" fill="#000" textLength="32.5" lengthAdjust="spacingAndGlyphs" xml:space="preserve">153.085</text>
<rect x="1647" y="378" width="2" height="1" fill="#000" shape-rendering="crispEdges"/>
<text x="1652.5" y="382" font-size="9.5" fill="#000" textLength="32.5" lengthAdjust="spacingAndGlyphs" xml:space="preserve">152.500</text>
<rect x="1647" y="411" width="2" height="1" fill="#000" shape-rendering="crispEdges"/>
<text x="1652.5" y="415" font-size="9.5" fill="#000" textLength="32.5" lengthAdjust="spacingAndGlyphs" xml:space="preserve">151.930</text>
<rect x="1647" y="444" width="2" height="1" fill="#000" shape-rendering="crispEdges"/>
<text x="1652.5" y="448" font-size="9.5" fill="#000" textLength="32.5" lengthAdjust="spacingAndGlyphs" xml:space="preserve">151.345</text>
<rect x="1647" y="477" width="2" height="1" fill="#000" shape-rendering="crispEdges"/>
<text x="1652.5" y="481" font-size="9.5" fill="#000" textLength="32.5" lengthAdjust="spacingAndGlyphs" xml:space="preserve">150.775</text>
<rect x="1647" y="510" width="2" height="1" fill="#000" shape-rendering="crispEdges"/>
<text x="1652.5" y="514" font-size="9.5" fill="#000" textLength="32.5" lengthAdjust="spacingAndGlyphs" xml:space="preserve">150.190</text>
<rect x="1647" y="543" width="2" height="1" fill="#000" shape-rendering="crispEdges"/>
<text x="1652.5" y="547" font-size="9.5" fill="#000" textLength="32.5" lengthAdjust="spacingAndGlyphs" xml:space="preserve">149.605</text>
<rect x="1647" y="576" width="2" height="1" fill="#000" shape-rendering="crispEdges"/>
<text x="1652.5" y="580" font-size="9.5" fill="#000" textLength="32.5" lengthAdjust="spacingAndGlyphs" xml:space="preserve">149.035</text>
</g>
<rect x="1641.5" y="141.5" width="4" height="4" fill="#fff" stroke="#ff0000" stroke-width="1" shape-rendering="crispEdges"/>
<rect x="1648" y="137" width="41" height="11" fill="#ff0000" shape-rendering="crispEdges"/><text x="1651.5" y="146" font-size="9.5" fill="#fff" textLength="32.5" lengthAdjust="spacingAndGlyphs" xml:space="preserve">156.628</text>
<rect x="1641.5" y="158.5" width="4" height="4" fill="#fff" stroke="#ff0000" stroke-width="1" shape-rendering="crispEdges"/>
<rect x="1648" y="154" width="41" height="11" fill="#ff0000" shape-rendering="crispEdges"/><text x="1651.5" y="163" font-size="9.5" fill="#fff" textLength="32.5" lengthAdjust="spacingAndGlyphs" xml:space="preserve">156.330</text>
<rect x="1641.5" y="212.5" width="4" height="4" fill="#fff" stroke="#0000ff" stroke-width="1" shape-rendering="crispEdges"/>
<rect x="1648" y="208" width="41" height="11" fill="#0000ff" shape-rendering="crispEdges"/><text x="1651.5" y="217" font-size="9.5" fill="#fff" textLength="32.5" lengthAdjust="spacingAndGlyphs" xml:space="preserve">155.384</text>
<rect x="1641.5" y="238.5" width="4" height="4" fill="#fff" stroke="#0000ff" stroke-width="1" shape-rendering="crispEdges"/>
<rect x="1648" y="234" width="41" height="11" fill="#0000ff" shape-rendering="crispEdges"/><text x="1651.5" y="243" font-size="9.5" fill="#fff" textLength="32.5" lengthAdjust="spacingAndGlyphs" xml:space="preserve">154.929</text>
<rect x="1648" y="176" width="41" height="11" fill="#000000" shape-rendering="crispEdges"/><text x="1651.5" y="185" font-size="9.5" fill="#fff" textLength="32.5" lengthAdjust="spacingAndGlyphs" xml:space="preserve">155.964</text>
<rect x="1648" y="187" width="41" height="11" fill="#32cd32" shape-rendering="crispEdges"/><text x="1651.5" y="196" font-size="9.5" fill="#fff" textLength="32.5" lengthAdjust="spacingAndGlyphs" xml:space="preserve">155.752</text>
<g clip-path="url(#cd)" shape-rendering="crispEdges">
<rect x="3" y="691" width="1" height="5" fill="#c0c0c0"/>
<rect x="11" y="682" width="1" height="14" fill="#c0c0c0"/>
<rect x="19" y="673" width="1" height="23" fill="#c0c0c0"/>
<rect x="27" y="668" width="1" height="28" fill="#c0c0c0"/>
<rect x="35" y="667" width="1" height="29" fill="#c0c0c0"/>
<rect x="43" y="663" width="1" height="33" fill="#c0c0c0"/>
<rect x="51" y="662" width="1" height="34" fill="#c0c0c0"/>
<rect x="59" y="661" width="1" height="35" fill="#c0c0c0"/>
<rect x="67" y="662" width="1" height="34" fill="#c0c0c0"/>
<rect x="75" y="661" width="1" height="35" fill="#c0c0c0"/>
<rect x="83" y="656" width="1" height="40" fill="#c0c0c0"/>
<rect x="91" y="651" width="1" height="45" fill="#c0c0c0"/>
<rect x="99" y="648" width="1" height="48" fill="#c0c0c0"/>
<rect x="107" y="647" width="1" height="49" fill="#c0c0c0"/>
<rect x="115" y="644" width="1" height="52" fill="#c0c0c0"/>
<rect x="123" y="644" width="1" height="52" fill="#c0c0c0"/>
<rect x="131" y="650" width="1" height="46" fill="#c0c0c0"/>
<rect x="139" y="662" width="1" height="34" fill="#c0c0c0"/>
<rect x="147" y="671" width="1" height="25" fill="#c0c0c0"/>
<rect x="155" y="676" width="1" height="20" fill="#c0c0c0"/>
<rect x="163" y="682" width="1" height="14" fill="#c0c0c0"/>
<rect x="171" y="691" width="1" height="5" fill="#c0c0c0"/>
<rect x="179" y="695" width="1" height="5" fill="#c0c0c0"/>
<rect x="187" y="695" width="1" height="12" fill="#c0c0c0"/>
<rect x="195" y="695" width="1" height="17" fill="#c0c0c0"/>
<rect x="203" y="695" width="1" height="21" fill="#c0c0c0"/>
<rect x="211" y="695" width="1" height="21" fill="#c0c0c0"/>
<rect x="219" y="695" width="1" height="22" fill="#c0c0c0"/>
<rect x="227" y="695" width="1" height="21" fill="#c0c0c0"/>
<rect x="235" y="695" width="1" height="24" fill="#c0c0c0"/>
<rect x="243" y="695" width="1" height="28" fill="#c0c0c0"/>
<rect x="251" y="695" width="1" height="29" fill="#c0c0c0"/>
<rect x="259" y="695" width="1" height="34" fill="#c0c0c0"/>
<rect x="267" y="695" width="1" height="36" fill="#c0c0c0"/>
<rect x="275" y="695" width="1" height="31" fill="#c0c0c0"/>
<rect x="283" y="695" width="1" height="26" fill="#c0c0c0"/>
<rect x="291" y="695" width="1" height="23" fill="#c0c0c0"/>
<rect x="299" y="695" width="1" height="19" fill="#c0c0c0"/>
<rect x="307" y="695" width="1" height="18" fill="#c0c0c0"/>
<rect x="315" y="695" width="1" height="13" fill="#c0c0c0"/>
<rect x="323" y="695" width="1" height="6" fill="#c0c0c0"/>
<rect x="331" y="695" width="1" height="3" fill="#c0c0c0"/>
<rect x="339" y="693" width="1" height="3" fill="#c0c0c0"/>
<rect x="347" y="690" width="1" height="6" fill="#c0c0c0"/>
<rect x="355" y="687" width="1" height="9" fill="#c0c0c0"/>
<rect x="363" y="684" width="1" height="12" fill="#c0c0c0"/>
<rect x="371" y="679" width="1" height="17" fill="#c0c0c0"/>
<rect x="379" y="672" width="1" height="24" fill="#c0c0c0"/>
<rect x="387" y="667" width="1" height="29" fill="#c0c0c0"/>
<rect x="395" y="663" width="1" height="33" fill="#c0c0c0"/>
<rect x="403" y="659" width="1" height="37" fill="#c0c0c0"/>
<rect x="411" y="662" width="1" height="34" fill="#c0c0c0"/>
<rect x="419" y="666" width="1" height="30" fill="#c0c0c0"/>
<rect x="427" y="672" width="1" height="24" fill="#c0c0c0"/>
<rect x="435" y="673" width="1" height="23" fill="#c0c0c0"/>
<rect x="443" y="674" width="1" height="22" fill="#c0c0c0"/>
<rect x="451" y="675" width="1" height="21" fill="#c0c0c0"/>
<rect x="459" y="678" width="1" height="18" fill="#c0c0c0"/>
<rect x="467" y="678" width="1" height="18" fill="#c0c0c0"/>
<rect x="475" y="674" width="1" height="22" fill="#c0c0c0"/>
<rect x="483" y="671" width="1" height="25" fill="#c0c0c0"/>
<rect x="491" y="668" width="1" height="28" fill="#c0c0c0"/>
<rect x="499" y="665" width="1" height="31" fill="#c0c0c0"/>
<rect x="507" y="663" width="1" height="33" fill="#c0c0c0"/>
<rect x="515" y="661" width="1" height="35" fill="#c0c0c0"/>
<rect x="523" y="655" width="1" height="41" fill="#c0c0c0"/>
<rect x="531" y="651" width="1" height="45" fill="#c0c0c0"/>
<rect x="539" y="647" width="1" height="49" fill="#c0c0c0"/>
<rect x="547" y="638" width="1" height="58" fill="#c0c0c0"/>
<rect x="555" y="630" width="1" height="66" fill="#c0c0c0"/>
<rect x="563" y="624" width="1" height="72" fill="#c0c0c0"/>
<rect x="571" y="615" width="1" height="81" fill="#c0c0c0"/>
<rect x="579" y="614" width="1" height="82" fill="#c0c0c0"/>
<rect x="587" y="612" width="1" height="84" fill="#c0c0c0"/>
<rect x="595" y="613" width="1" height="83" fill="#c0c0c0"/>
<rect x="603" y="615" width="1" height="81" fill="#c0c0c0"/>
<rect x="611" y="613" width="1" height="83" fill="#c0c0c0"/>
<rect x="619" y="611" width="1" height="85" fill="#c0c0c0"/>
<rect x="627" y="612" width="1" height="84" fill="#c0c0c0"/>
<rect x="635" y="616" width="1" height="80" fill="#c0c0c0"/>
<rect x="643" y="618" width="1" height="78" fill="#c0c0c0"/>
<rect x="651" y="618" width="1" height="78" fill="#c0c0c0"/>
<rect x="659" y="619" width="1" height="77" fill="#c0c0c0"/>
<rect x="667" y="619" width="1" height="77" fill="#c0c0c0"/>
<rect x="675" y="621" width="1" height="75" fill="#c0c0c0"/>
<rect x="683" y="622" width="1" height="74" fill="#c0c0c0"/>
<rect x="691" y="621" width="1" height="75" fill="#c0c0c0"/>
<rect x="699" y="620" width="1" height="76" fill="#c0c0c0"/>
<rect x="707" y="618" width="1" height="78" fill="#c0c0c0"/>
<rect x="715" y="619" width="1" height="77" fill="#c0c0c0"/>
<rect x="723" y="620" width="1" height="76" fill="#c0c0c0"/>
<rect x="731" y="621" width="1" height="75" fill="#c0c0c0"/>
<rect x="739" y="619" width="1" height="77" fill="#c0c0c0"/>
<rect x="747" y="613" width="1" height="83" fill="#c0c0c0"/>
<rect x="755" y="603" width="1" height="93" fill="#c0c0c0"/>
<rect x="763" y="596" width="1" height="100" fill="#c0c0c0"/>
<rect x="771" y="594" width="1" height="102" fill="#c0c0c0"/>
<rect x="779" y="591" width="1" height="105" fill="#c0c0c0"/>
<rect x="787" y="592" width="1" height="104" fill="#c0c0c0"/>
<rect x="795" y="593" width="1" height="103" fill="#c0c0c0"/>
<rect x="803" y="596" width="1" height="100" fill="#c0c0c0"/>
<rect x="811" y="602" width="1" height="94" fill="#c0c0c0"/>
<rect x="819" y="605" width="1" height="91" fill="#c0c0c0"/>
<rect x="827" y="609" width="1" height="87" fill="#c0c0c0"/>
<rect x="835" y="612" width="1" height="84" fill="#c0c0c0"/>
<rect x="843" y="616" width="1" height="80" fill="#c0c0c0"/>
<rect x="851" y="612" width="1" height="84" fill="#c0c0c0"/>
<rect x="859" y="612" width="1" height="84" fill="#c0c0c0"/>
<rect x="867" y="613" width="1" height="83" fill="#c0c0c0"/>
<rect x="875" y="612" width="1" height="84" fill="#c0c0c0"/>
<rect x="883" y="612" width="1" height="84" fill="#c0c0c0"/>
<rect x="891" y="618" width="1" height="78" fill="#c0c0c0"/>
<rect x="899" y="625" width="1" height="71" fill="#c0c0c0"/>
<rect x="907" y="626" width="1" height="70" fill="#c0c0c0"/>
<rect x="915" y="627" width="1" height="69" fill="#c0c0c0"/>
<rect x="923" y="628" width="1" height="68" fill="#c0c0c0"/>
<rect x="931" y="630" width="1" height="66" fill="#c0c0c0"/>
<rect x="939" y="635" width="1" height="61" fill="#c0c0c0"/>
<rect x="947" y="640" width="1" height="56" fill="#c0c0c0"/>
<rect x="955" y="649" width="1" height="47" fill="#c0c0c0"/>
<rect x="963" y="656" width="1" height="40" fill="#c0c0c0"/>
<rect x="971" y="663" width="1" height="33" fill="#c0c0c0"/>
<rect x="979" y="666" width="1" height="30" fill="#c0c0c0"/>
<rect x="987" y="673" width="1" height="23" fill="#c0c0c0"/>
<rect x="995" y="678" width="1" height="18" fill="#c0c0c0"/>
<rect x="1003" y="690" width="1" height="6" fill="#c0c0c0"/>
<rect x="1011" y="695" width="1" height="6" fill="#c0c0c0"/>
<rect x="1019" y="695" width="1" height="10" fill="#c0c0c0"/>
<rect x="1027" y="695" width="1" height="12" fill="#c0c0c0"/>
<rect x="1035" y="695" width="1" height="13" fill="#c0c0c0"/>
<rect x="1043" y="695" width="1" height="15" fill="#c0c0c0"/>
<rect x="1051" y="695" width="1" height="15" fill="#c0c0c0"/>
<rect x="1059" y="695" width="1" height="16" fill="#c0c0c0"/>
<rect x="1067" y="695" width="1" height="16" fill="#c0c0c0"/>
<rect x="1075" y="695" width="1" height="13" fill="#c0c0c0"/>
<rect x="1083" y="695" width="1" height="9" fill="#c0c0c0"/>
<rect x="1091" y="695" width="1" height="4" fill="#c0c0c0"/>
<rect x="1099" y="694" width="1" height="2" fill="#c0c0c0"/>
<rect x="1107" y="693" width="1" height="3" fill="#c0c0c0"/>
<rect x="1115" y="691" width="1" height="5" fill="#c0c0c0"/>
<rect x="1123" y="691" width="1" height="5" fill="#c0c0c0"/>
<rect x="1131" y="695" width="1" height="3" fill="#c0c0c0"/>
<rect x="1139" y="695" width="1" height="9" fill="#c0c0c0"/>
<rect x="1147" y="695" width="1" height="13" fill="#c0c0c0"/>
<rect x="1155" y="695" width="1" height="15" fill="#c0c0c0"/>
<rect x="1163" y="695" width="1" height="17" fill="#c0c0c0"/>
<rect x="1171" y="695" width="1" height="19" fill="#c0c0c0"/>
<rect x="1179" y="695" width="1" height="20" fill="#c0c0c0"/>
<rect x="1187" y="695" width="1" height="21" fill="#c0c0c0"/>
<rect x="1195" y="695" width="1" height="18" fill="#c0c0c0"/>
<rect x="1203" y="695" width="1" height="16" fill="#c0c0c0"/>
<rect x="1211" y="695" width="1" height="12" fill="#c0c0c0"/>
<rect x="1219" y="695" width="1" height="10" fill="#c0c0c0"/>
<rect x="1227" y="695" width="1" height="8" fill="#c0c0c0"/>
<rect x="1235" y="695" width="1" height="4" fill="#c0c0c0"/>
<rect x="1243" y="695" width="1" height="8" fill="#c0c0c0"/>
<rect x="1251" y="695" width="1" height="13" fill="#c0c0c0"/>
<rect x="1259" y="695" width="1" height="14" fill="#c0c0c0"/>
<rect x="1267" y="695" width="1" height="15" fill="#c0c0c0"/>
<rect x="1275" y="695" width="1" height="15" fill="#c0c0c0"/>
<rect x="1283" y="695" width="1" height="15" fill="#c0c0c0"/>
<rect x="1291" y="695" width="1" height="16" fill="#c0c0c0"/>
<rect x="1299" y="695" width="1" height="19" fill="#c0c0c0"/>
<rect x="1307" y="695" width="1" height="22" fill="#c0c0c0"/>
<rect x="1315" y="695" width="1" height="26" fill="#c0c0c0"/>
<rect x="1323" y="695" width="1" height="31" fill="#c0c0c0"/>
<rect x="1331" y="695" width="1" height="36" fill="#c0c0c0"/>
<rect x="1339" y="695" width="1" height="41" fill="#c0c0c0"/>
<rect x="1347" y="695" width="1" height="43" fill="#c0c0c0"/>
<rect x="1355" y="695" width="1" height="44" fill="#c0c0c0"/>
<rect x="1363" y="695" width="1" height="44" fill="#c0c0c0"/>
<rect x="1371" y="695" width="1" height="44" fill="#c0c0c0"/>
<rect x="1379" y="695" width="1" height="41" fill="#c0c0c0"/>
<rect x="1387" y="695" width="1" height="35" fill="#c0c0c0"/>
<rect x="1395" y="695" width="1" height="28" fill="#c0c0c0"/>
<rect x="1403" y="695" width="1" height="22" fill="#c0c0c0"/>
</g>
<g clip-path="url(#cd)">
<polyline points="0.5,733.2 5.8,727.4 12.2,721.5 18.5,714.7 24.3,708.8 30.2,702.5 35.5,696.6 40.8,690.8 46.6,685.0 52.4,679.7 58.8,675.5 64.6,671.8 70.4,668.6 75.5,667.1 83.5,664.3 91.5,661.8 99.5,659.6 107.5,657.4 115.5,655.2 123.5,653.2 131.5,652.0 139.5,652.0 147.5,653.1 155.5,655.3 163.5,658.7 171.5,663.4 179.5,669.2 187.5,676.1 195.5,683.6 203.5,690.8 211.5,696.6 219.5,701.7 227.5,706.0 235.5,709.9 243.5,713.3 251.5,716.0 259.5,718.5 267.5,720.6 275.5,721.7 283.5,722.3 291.5,722.4 299.5,722.2 307.5,721.6 315.5,720.1 323.5,717.6 331.5,714.1 339.5,710.0 347.5,706.1 355.5,702.4 363.5,698.8 371.5,695.0 379.5,690.5 387.5,686.0 395.5,681.8 403.5,677.7 411.5,674.2 419.5,671.5 427.5,669.8 435.5,668.6 443.5,667.9 451.5,668.3 459.5,669.6 467.5,671.3 475.5,672.9 483.5,674.0 491.5,674.1 499.5,673.3 507.5,672.2 515.5,670.8 523.5,668.6 531.5,665.5 539.5,662.1 547.5,658.2 555.5,653.6 563.5,648.7 571.5,643.3 579.5,637.8 587.5,632.3 595.5,627.6 603.5,623.7 611.5,619.9 619.5,616.8 627.5,614.8 635.5,614.0 643.5,614.2 651.5,614.7 659.5,615.4 667.5,616.1 675.5,616.8 683.5,617.9 691.5,619.0 699.5,619.9 707.5,620.2 715.5,620.3 723.5,620.6 731.5,620.8 739.5,620.7 747.5,619.8 755.5,617.7 763.5,614.9 771.5,611.9 779.5,608.9 787.5,605.9 795.5,602.8 803.5,600.1 811.5,598.1 819.5,597.3 827.5,598.0 835.5,599.8 843.5,602.2 851.5,604.6 859.5,606.9 867.5,609.1 875.5,611.0 883.5,612.1 891.5,613.5 899.5,615.2 907.5,616.8 915.5,618.1 923.5,619.8 931.5,621.8 939.5,624.2 947.5,627.2 955.5,631.3 963.5,635.5 971.5,639.7 979.5,644.2 987.5,649.3 995.5,654.9 1003.5,661.6 1011.5,668.9 1019.5,676.0 1027.5,682.4 1035.5,688.0 1043.5,693.2 1051.5,697.9 1059.5,702.0 1067.5,705.5 1075.5,707.4 1083.5,707.8 1091.5,707.1 1099.5,705.8 1107.5,704.2 1115.5,702.1 1123.5,700.1 1131.5,698.6 1139.5,697.9 1147.5,697.8 1155.5,698.4 1163.5,699.9 1171.5,702.0 1179.5,704.3 1187.5,707.0 1195.5,709.4 1203.5,710.9 1211.5,711.2 1219.5,710.8 1227.5,710.1 1235.5,708.6 1243.5,707.4 1251.5,706.7 1259.5,705.9 1267.5,705.5 1275.5,705.4 1283.5,705.8 1291.5,706.5 1299.5,707.7 1307.5,709.8 1315.5,711.7 1323.5,713.7 1331.5,716.2 1339.5,719.2 1347.5,722.2 1355.5,725.4 1363.5,728.5 1371.5,731.2 1379.5,733.3 1387.5,734.3 1395.5,734.0 1403.5,732.4" fill="none" stroke="#ff0000" stroke-width="1" stroke-dasharray="3 3" shape-rendering="crispEdges"/>
<line x1="1351" y1="738.5" x2="1399.8" y2="716.4" stroke="#ff0000" stroke-width="3.5" stroke-linecap="round"/><polygon points="1408.5,712.5 1399.9,721.3 1396.2,713.1" fill="#ff0000" stroke="#ff0000" stroke-width="1.5" stroke-linejoin="round"/>
</g>
<text x="-0.5" y="594" font-size="9.5" fill="#000" textLength="125.5" lengthAdjust="spacingAndGlyphs" xml:space="preserve">ACD(12,26,9) -0.1929 -0.3364</text>
<rect x="1647" y="583" width="2" height="1" shape-rendering="crispEdges"/><text x="1650" y="592" font-size="9.5" fill="#000" textLength="28" lengthAdjust="spacingAndGlyphs" xml:space="preserve">1.0255</text>
<rect x="1647" y="695" width="2" height="1" shape-rendering="crispEdges"/><text x="1649.5" y="699" font-size="9.5" fill="#000" textLength="19" lengthAdjust="spacingAndGlyphs" xml:space="preserve">0.00</text>
<rect x="1647" y="750" width="2" height="1" shape-rendering="crispEdges"/><text x="1649.5" y="748" font-size="9.5" fill="#000" textLength="32" lengthAdjust="spacingAndGlyphs" xml:space="preserve">-0.5108</text>
<g shape-rendering="crispEdges">
<line x1="0" y1="789.5" x2="1646" y2="789.5" stroke="#c0c0c0" stroke-width="1" stroke-dasharray="3 3"/>
<line x1="0" y1="840.5" x2="1646" y2="840.5" stroke="#c0c0c0" stroke-width="1" stroke-dasharray="3 3"/>
<line x1="0" y1="901.5" x2="1646" y2="901.5" stroke="#c0c0c0" stroke-width="1" stroke-dasharray="3 3"/>
</g>
<g clip-path="url(#cr)">
<polyline points="0.5,815.9 3.5,815.9 11.5,814.7 19.5,811.9 27.5,816.2 35.5,825.4 43.5,818.9 51.5,822.7 59.5,821.7 67.5,828.6 75.5,820.4 83.5,812.4 91.5,809.0 99.5,810.8 107.5,814.2 115.5,806.9 123.5,817.0 131.5,836.1 139.5,853.6 147.5,847.9 155.5,845.5 163.5,847.9 171.5,857.0 179.5,860.5 187.5,860.8 195.5,861.7 203.5,858.8 211.5,849.9 219.5,854.2 227.5,847.1 235.5,857.4 243.5,862.3 251.5,855.9 259.5,867.2 267.5,860.6 275.5,841.5 283.5,839.9 291.5,842.0 299.5,840.8 307.5,846.5 315.5,835.4 323.5,827.6 331.5,833.8 339.5,831.8 347.5,831.6 355.5,828.3 363.5,827.5 371.5,820.6 379.5,811.4 387.5,814.5 395.5,813.6 403.5,812.0 411.5,830.5 419.5,839.7 427.5,842.6 435.5,833.9 443.5,832.1 451.5,834.6 459.5,841.3 467.5,831.3 475.5,819.9 483.5,821.5 491.5,818.7 499.5,816.0 507.5,817.8 515.5,815.9 523.5,803.8 531.5,805.4 539.5,804.2 547.5,792.4 555.5,789.5 563.5,790.9 571.5,785.2 579.5,801.8 587.5,800.8 595.5,802.9 603.5,809.0 611.5,799.6 619.5,797.8 627.5,807.0 635.5,815.7 643.5,810.1 651.5,806.4 659.5,808.0 667.5,805.1 675.5,809.4 683.5,806.7 691.5,801.2 699.5,800.2 707.5,795.8 715.5,803.0 723.5,805.1 731.5,801.0 739.5,796.1 747.5,788.4 755.5,782.5 763.5,782.3 771.5,788.9 779.5,786.5 787.5,797.3 795.5,796.4 803.5,798.1 811.5,810.0 819.5,806.5 827.5,806.4 835.5,804.0 843.5,804.4 851.5,792.6 859.5,797.4 867.5,801.2 875.5,796.5 883.5,794.7 891.5,819.3 899.5,828.0 907.5,815.0 915.5,813.6 923.5,811.5 931.5,815.7 939.5,825.9 947.5,825.7 955.5,842.0 963.5,838.9 971.5,844.0 979.5,835.1 987.5,846.4 995.5,845.1 1003.5,862.7 1011.5,863.2 1019.5,852.8 1027.5,848.4 1035.5,846.7 1043.5,852.7 1051.5,846.9 1059.5,848.7 1067.5,846.9 1075.5,840.5 1083.5,834.1 1091.5,827.4 1099.5,830.3 1107.5,835.8 1115.5,832.7 1123.5,839.7 1131.5,855.4 1139.5,860.9 1147.5,854.6 1155.5,851.9 1163.5,854.9 1171.5,856.2 1179.5,852.3 1187.5,854.9 1195.5,844.2 1203.5,841.4 1211.5,835.8 1219.5,837.5 1227.5,840.0 1235.5,828.2 1243.5,856.1 1251.5,858.4 1259.5,847.9 1267.5,849.9 1275.5,850.2 1283.5,849.3 1291.5,850.4 1299.5,861.5 1307.5,861.5 1315.5,867.0 1323.5,873.6 1331.5,875.0 1339.5,880.2 1347.5,868.8 1355.5,868.8 1363.5,869.3 1371.5,869.0 1379.5,859.3 1387.5,840.5 1395.5,835.1 1403.5,834.4" fill="none" stroke="#1e90ff" stroke-width="1" shape-rendering="crispEdges"/>
<line x1="1344.5" y1="879.5" x2="1402.0" y2="840.5" stroke="#ff0000" stroke-width="3.5" stroke-linecap="round"/><polygon points="1409.5,835.5 1402.9,845.4 1397.9,837.9" fill="#ff0000" stroke="#ff0000" stroke-width="1.5" stroke-linejoin="round"/>
</g>
<text x="-0.5" y="766" font-size="9.5" fill="#000" textLength="59" lengthAdjust="spacingAndGlyphs" xml:space="preserve">SI(14) 53.4151</text>
<rect x="1647" y="755" width="2" height="1" shape-rendering="crispEdges"/><text x="1650" y="764" font-size="9.5" fill="#000" textLength="15" lengthAdjust="spacingAndGlyphs" xml:space="preserve">100</text>
<rect x="1647" y="789" width="2" height="1" shape-rendering="crispEdges"/><text x="1648.5" y="793" font-size="9.5" fill="#000" textLength="10.5" lengthAdjust="spacingAndGlyphs" xml:space="preserve">80</text>
<rect x="1647" y="840" width="2" height="1" shape-rendering="crispEdges"/><text x="1648.5" y="844" font-size="9.5" fill="#000" textLength="10.5" lengthAdjust="spacingAndGlyphs" xml:space="preserve">50</text>
<rect x="1647" y="901" width="2" height="1" shape-rendering="crispEdges"/><text x="1648.5" y="905" font-size="9.5" fill="#000" textLength="10.5" lengthAdjust="spacingAndGlyphs" xml:space="preserve">15</text>
<rect x="1647" y="926" width="2" height="1" shape-rendering="crispEdges"/><text x="1649" y="924" font-size="9.5" fill="#000" textLength="5.5" lengthAdjust="spacingAndGlyphs" xml:space="preserve">0</text>
<g font-size="9.6" fill="#000">
<text x="37.5" y="940" font-size="9.5" fill="#000" text-anchor="end" textLength="37.5" lengthAdjust="spacingAndGlyphs" xml:space="preserve">Sep 2021</text>
<rect x="51" y="928" width="1" height="3" shape-rendering="crispEdges"/><text x="50" y="940" font-size="9.5" fill="#000" textLength="56.1" lengthAdjust="spacingAndGlyphs" xml:space="preserve">24 Sep 16:00</text>
<rect x="115" y="928" width="1" height="3" shape-rendering="crispEdges"/><text x="114" y="940" font-size="9.5" fill="#000" textLength="56.1" lengthAdjust="spacingAndGlyphs" xml:space="preserve">28 Sep 00:00</text>
<rect x="179" y="928" width="1" height="3" shape-rendering="crispEdges"/><text x="178" y="940" font-size="9.5" fill="#000" textLength="56.1" lengthAdjust="spacingAndGlyphs" xml:space="preserve">29 Sep 08:00</text>
<rect x="243" y="928" width="1" height="3" shape-rendering="crispEdges"/><text x="242" y="940" font-size="9.5" fill="#000" textLength="56.1" lengthAdjust="spacingAndGlyphs" xml:space="preserve">30 Sep 16:00</text>
<rect x="307" y="928" width="1" height="3" shape-rendering="crispEdges"/><text x="306" y="940" font-size="9.5" fill="#000" textLength="48.8" lengthAdjust="spacingAndGlyphs" xml:space="preserve">4 Oct 00:00</text>
<rect x="371" y="928" width="1" height="3" shape-rendering="crispEdges"/><text x="370" y="940" font-size="9.5" fill="#000" textLength="48.8" lengthAdjust="spacingAndGlyphs" xml:space="preserve">5 Oct 08:00</text>
<rect x="435" y="928" width="1" height="3" shape-rendering="crispEdges"/><text x="434" y="940" font-size="9.5" fill="#000" textLength="48.8" lengthAdjust="spacingAndGlyphs" xml:space="preserve">6 Oct 16:00</text>
<rect x="499" y="928" width="1" height="3" shape-rendering="crispEdges"/><text x="498" y="940" font-size="9.5" fill="#000" textLength="48.8" lengthAdjust="spacingAndGlyphs" xml:space="preserve">8 Oct 00:00</text>
<rect x="563" y="928" width="1" height="3" shape-rendering="crispEdges"/><text x="562" y="940" font-size="9.5" fill="#000" textLength="53.4" lengthAdjust="spacingAndGlyphs" xml:space="preserve">11 Oct 08:00</text>
<rect x="627" y="928" width="1" height="3" shape-rendering="crispEdges"/><text x="626" y="940" font-size="9.5" fill="#000" textLength="54.0" lengthAdjust="spacingAndGlyphs" xml:space="preserve">12 Oct 16:00</text>
<rect x="691" y="928" width="1" height="3" shape-rendering="crispEdges"/><text x="690" y="940" font-size="9.5" fill="#000" textLength="54.0" lengthAdjust="spacingAndGlyphs" xml:space="preserve">14 Oct 00:00</text>
<rect x="755" y="928" width="1" height="3" shape-rendering="crispEdges"/><text x="754" y="940" font-size="9.5" fill="#000" textLength="54.0" lengthAdjust="spacingAndGlyphs" xml:space="preserve">15 Oct 08:00</text>
<rect x="819" y="928" width="1" height="3" shape-rendering="crispEdges"/><text x="818" y="940" font-size="9.5" fill="#000" textLength="54.0" lengthAdjust="spacingAndGlyphs" xml:space="preserve">18 Oct 16:00</text>
<rect x="883" y="928" width="1" height="3" shape-rendering="crispEdges"/><text x="882" y="940" font-size="9.5" fill="#000" textLength="54.0" lengthAdjust="spacingAndGlyphs" xml:space="preserve">20 Oct 00:00</text>
<rect x="947" y="928" width="1" height="3" shape-rendering="crispEdges"/><text x="946" y="940" font-size="9.5" fill="#000" textLength="54.0" lengthAdjust="spacingAndGlyphs" xml:space="preserve">21 Oct 08:00</text>
<rect x="1011" y="928" width="1" height="3" shape-rendering="crispEdges"/><text x="1010" y="940" font-size="9.5" fill="#000" textLength="54.0" lengthAdjust="spacingAndGlyphs" xml:space="preserve">22 Oct 16:00</text>
<rect x="1075" y="928" width="1" height="3" shape-rendering="crispEdges"/><text x="1074" y="940" font-size="9.5" fill="#000" textLength="54.0" lengthAdjust="spacingAndGlyphs" xml:space="preserve">26 Oct 00:00</text>
<rect x="1139" y="928" width="1" height="3" shape-rendering="crispEdges"/><text x="1138" y="940" font-size="9.5" fill="#000" textLength="54.0" lengthAdjust="spacingAndGlyphs" xml:space="preserve">27 Oct 08:00</text>
<rect x="1203" y="928" width="1" height="3" shape-rendering="crispEdges"/><text x="1202" y="940" font-size="9.5" fill="#000" textLength="54.0" lengthAdjust="spacingAndGlyphs" xml:space="preserve">28 Oct 16:00</text>
<rect x="1267" y="928" width="1" height="3" shape-rendering="crispEdges"/><text x="1266" y="940" font-size="9.5" fill="#000" textLength="50.9" lengthAdjust="spacingAndGlyphs" xml:space="preserve">1 Nov 00:00</text>
<rect x="1331" y="928" width="1" height="3" shape-rendering="crispEdges"/><text x="1330" y="940" font-size="9.5" fill="#000" textLength="50.9" lengthAdjust="spacingAndGlyphs" xml:space="preserve">2 Nov 08:00</text>
<rect x="1395" y="928" width="1" height="3" shape-rendering="crispEdges"/><text x="1394" y="940" font-size="9.5" fill="#000" textLength="50.9" lengthAdjust="spacingAndGlyphs" xml:space="preserve">3 Nov 16:00</text>
</g>
<text x="1.5" y="37.5" font-size="9.5" fill="#000" textLength="200.5" lengthAdjust="spacingAndGlyphs" xml:space="preserve">GBPJPY-,H4  155.957 156.057 155.920 155.964</text>
<g shape-rendering="crispEdges">
<rect x="0" y="46" width="42" height="25" fill="#0000a8"/><rect x="0" y="47" width="41" height="23" fill="url(#gsell)"/>
<rect x="0" y="70" width="99" height="33" fill="#0000a8"/><rect x="0" y="71" width="98" height="31" fill="url(#gsell2)"/>
<rect x="0" y="70" width="38" height="1" fill="#8080ff"/>
<rect x="157" y="46" width="52" height="25" fill="#0000a8"/><rect x="158" y="47" width="50" height="23" fill="url(#gsell)"/>
<rect x="101" y="70" width="108" height="33" fill="#0000a8"/><rect x="102" y="71" width="106" height="31" fill="url(#gsell2)"/>
<rect x="161" y="70" width="45" height="1" fill="#8080ff"/>
<rect x="44" y="46" width="111" height="22" fill="#a8a8a8"/><rect x="45" y="47" width="109" height="20" fill="#fff"/>
<rect x="45" y="47" width="20" height="20" fill="url(#gbtn)"/><rect x="65" y="47" width="1" height="20" fill="#a8a8a8"/>
<rect x="134" y="47" width="20" height="20" fill="url(#gbtn)"/><rect x="133" y="47" width="1" height="20" fill="#a8a8a8"/>
</g>
<polygon points="51.5,55 57,55 54.25,58" fill="#5070c0"/><polygon points="140.5,58 146,58 143.25,55" fill="#5070c0"/>
<text x="2.5" y="62" font-size="12.3" fill="#fff" textLength="26" lengthAdjust="spacingAndGlyphs" xml:space="preserve">SELL</text>
<text x="170" y="62" font-size="12.3" fill="#fff" textLength="24.5" lengthAdjust="spacingAndGlyphs" xml:space="preserve">BUY</text>
<text x="130" y="61" font-size="12.3" fill="#000" text-anchor="end">1.00</text>
<text x="14" y="98" font-size="12.3" font-weight="bold" fill="#fff">155</text>
<text x="37.5" y="98" font-size="33.5" fill="#fff" stroke="#1c1cc8" stroke-width="0.45" textLength="35" lengthAdjust="spacingAndGlyphs">96</text>
<text x="77" y="82" font-size="12.3" font-weight="bold" fill="#fff">4</text>
<text x="123" y="98" font-size="12.3" font-weight="bold" fill="#fff">156</text>
<text x="149.5" y="98" font-size="33.5" fill="#fff" stroke="#1c1cc8" stroke-width="0.45" textLength="34" lengthAdjust="spacingAndGlyphs">14</text>
<text x="188" y="82" font-size="12.3" font-weight="bold" fill="#fff">6</text>
<g><rect x="281" y="0" width="25" height="20" fill="#f6f6f6"/><rect x="281" y="0" width="1" height="20" fill="#9a9a9a"/><rect x="282" y="19" width="24" height="1" fill="#ffffff"/><rect x="433" y="0" width="25" height="20" fill="#f6f6f6"/><rect x="433" y="0" width="1" height="20" fill="#9a9a9a"/><rect x="434" y="19" width="24" height="1" fill="#ffffff"/><rect x="461" y="0" width="25" height="20" fill="#f6f6f6"/><rect x="461" y="0" width="1" height="20" fill="#9a9a9a"/><rect x="462" y="19" width="24" height="1" fill="#ffffff"/><rect x="621" y="0" width="25" height="20" fill="#f6f6f6"/><rect x="621" y="0" width="1" height="20" fill="#9a9a9a"/><rect x="622" y="19" width="24" height="1" fill="#ffffff"/><rect x="1067" y="0" width="25" height="20" fill="#f6f6f6"/><rect x="1067" y="0" width="1" height="20" fill="#9a9a9a"/><rect x="1068" y="19" width="24" height="1" fill="#ffffff"/><rect x="7" y="0" width="1" height="20" fill="#9a9a9a"/><rect x="243" y="0" width="1" height="20" fill="#9a9a9a"/><rect x="338" y="0" width="1" height="20" fill="#9a9a9a"/><rect x="428" y="0" width="1" height="20" fill="#9a9a9a"/><rect x="490" y="0" width="1" height="20" fill="#9a9a9a"/><rect x="611" y="0" width="1" height="20" fill="#9a9a9a"/><rect x="678" y="0" width="1" height="20" fill="#9a9a9a"/><rect x="917" y="0" width="1" height="20" fill="#9a9a9a"/><rect x="1178" y="0" width="1" height="20" fill="#9a9a9a"/><rect x="246" y="1" width="3" height="1" fill="#a0a0a0"/><rect x="246" y="3" width="3" height="1" fill="#a0a0a0"/><rect x="246" y="5" width="3" height="1" fill="#a0a0a0"/><rect x="246" y="7" width="3" height="1" fill="#a0a0a0"/><rect x="246" y="9" width="3" height="1" fill="#a0a0a0"/><rect x="246" y="11" width="3" height="1" fill="#a0a0a0"/><rect x="246" y="13" width="3" height="1" fill="#a0a0a0"/><rect x="246" y="15" width="3" height="1" fill="#a0a0a0"/><rect x="246" y="17" width="3" height="1" fill="#a0a0a0"/><rect x="615" y="1" width="3" height="1" fill="#a0a0a0"/><rect x="615" y="3" width="3" height="1" fill="#a0a0a0"/><rect x="615" y="5" width="3" height="1" fill="#a0a0a0"/><rect x="615" y="7" width="3" height="1" fill="#a0a0a0"/><rect x="615" y="9" width="3" height="1" fill="#a0a0a0"/><rect x="615" y="11" width="3" height="1" fill="#a0a0a0"/><rect x="615" y="13" width="3" height="1" fill="#a0a0a0"/><rect x="615" y="15" width="3" height="1" fill="#a0a0a0"/><rect x="615" y="17" width="3" height="1" fill="#a0a0a0"/><rect x="921" y="1" width="3" height="1" fill="#a0a0a0"/><rect x="921" y="3" width="3" height="1" fill="#a0a0a0"/><rect x="921" y="5" width="3" height="1" fill="#a0a0a0"/><rect x="921" y="7" width="3" height="1" fill="#a0a0a0"/><rect x="921" y="9" width="3" height="1" fill="#a0a0a0"/><rect x="921" y="11" width="3" height="1" fill="#a0a0a0"/><rect x="921" y="13" width="3" height="1" fill="#a0a0a0"/><rect x="921" y="15" width="3" height="1" fill="#a0a0a0"/><rect x="921" y="17" width="3" height="1" fill="#a0a0a0"/><rect x="17.5" y="2.5" width="11" height="13" rx="1" fill="#fff" stroke="#606060" stroke-width="1"/><rect x="19" y="4" width="3" height="2" fill="#888"/><rect x="19" y="8" width="6" height="1" fill="#777"/><rect x="19" y="10" width="6" height="1" fill="#777"/><rect x="19" y="12" width="5" height="1" fill="#777"/><path d="M25.5 8.5h3v4h4v3h-4v4h-3v-4h-4v-3h4z" fill="#30e030" stroke="#0a8a10" stroke-width="1"/><g stroke="#000" stroke-width="1" fill="none"><path d="M39.5 3v1.5M36 5.5h6M37.5 6.5v1M40.5 6.5v1M36 8.5h6M39.5 8v6M38.5 10.5l-2.5 2.5M40.5 10.5l1.5 1.5"/><path d="M47.5 3.5l-4 1.5M43.5 5v9M43.5 8.5h5M46.5 9v5"/><path d="M49.5 3.5l1.5 1.5M49 7.5h2v5l1.5-1.5M52.5 4.5h7.5M57.5 5v8.5h-2"/><path d="M63.5 3l1 1.5M69.5 3l-1 1.5M62.5 5.5h9v6h-9zM62.5 8.5h9M67 5.5v9M61 12.5h12"/></g><g stroke="#000" stroke-width="1" fill="none"><path d="M193.5 2.5l-1 1.5M189.5 4.5h9v9h-9zM189.5 7.5h9M189.5 10.5h9"/><path d="M201 4.5h5M200.5 7.5h6M203.5 8l-2.5 5.5h5.5l-1-1.5M206.5 7.5h5v6h-2M209 3v4.5l-1 4-2 2"/><path d="M218.5 2.5v2M212.5 5.5h11M215 7l-2 2.5M221 7l2 2.5M215 9.5l7 4.5M221 9.5l-8 4.5"/><path d="M227.5 3.5h6v5h-6zM227.5 6h6M226 9.5h8l-1 4.5h-1.5M228.5 10l-2.5 4M230.5 10l-2.5 4M232.5 10l-2.5 4"/></g><path d="M84 12 L92 3 L99 8 L100 11 L92 18 Z" fill="#e8c040" stroke="#a06a10" stroke-width="1"/><path d="M86 12.5 L92.5 16.5" stroke="#b07820" stroke-width="1"/><path d="M114 2.5h9l1.5 1.5v10h-10.5z" fill="#2a9ae8" stroke="#1a60b0" stroke-width="1"/><rect x="118" y="5" width="5" height="3" fill="#e8f4ff"/><path d="M113 17.5c-2 0-2-3 0-3.5 0-2 3-3 4.5-1.5 1-2.5 5-2.5 6 0 2.5-.5 3.5 3 1.5 5z" fill="#eef2fa" stroke="#5a70a8" stroke-width="1"/><circle cx="148" cy="9.5" r="7" fill="none" stroke="#90b0e0" stroke-width="1"/><circle cx="148" cy="9.5" r="4.5" fill="none" stroke="#80a8e0" stroke-width="1"/><path d="M148 9.5 A7 7 0 0 1 148 16.5" fill="none" stroke="#50b050" stroke-width="1"/><circle cx="148" cy="9.5" r="1.6" fill="#2060c0"/><path d="M148.5 10v7" stroke="#20a020" stroke-width="1.3"/><path d="M168 9 L182 9 L179 17.5 L172 17.5 Z" fill="#f4d040" stroke="#c09020" stroke-width="0.8"/><ellipse cx="175" cy="6.5" rx="8" ry="3" fill="#58a8e0" stroke="#3070a0" stroke-width="0.8"/><ellipse cx="175" cy="5" rx="4" ry="3" fill="#70b8e8" stroke="#3070a0" stroke-width="0.8"/><circle cx="180" cy="13.5" r="4.3" fill="#e02020" stroke="#a01010" stroke-width="0.6"/><rect x="178.3" y="11.8" width="3.4" height="3.4" fill="#fff"/><path d="M261.5 4v14M259 15.5h13" fill="none" stroke="#505050" stroke-width="1.2"/><path d="M259.8 6 L261.5 3.5 L263.2 6M270 13.8 L272.5 15.5 L270 17.2" fill="#505050" stroke="#505050" stroke-width="0.8"/><path d="M267.5 5v9M265 12.5h2.5M267.5 6.5h2.5" stroke="#109010" stroke-width="1.2" fill="none"/><path d="M289.5 4v14M287 15.5h13" fill="none" stroke="#505050" stroke-width="1.2"/><path d="M287.8 6 L289.5 3.5 L291.2 6M298 13.8 L300.5 15.5 L298 17.2" fill="#505050" stroke="#505050" stroke-width="0.8"/><path d="M295.5 2v12" stroke="#0a800a" stroke-width="1"/><rect x="293.5" y="4.5" width="4" height="7" fill="#40e040" stroke="#0a800a" stroke-width="1"/><path d="M317.5 4v14M315 15.5h13" fill="none" stroke="#505050" stroke-width="1.2"/><path d="M315.8 6 L317.5 3.5 L319.2 6M326 13.8 L328.5 15.5 L326 17.2" fill="#505050" stroke="#505050" stroke-width="0.8"/><path d="M316 12.5 C318 10 320 7 322 7 C324 7 326 10 327.5 11" fill="none" stroke="#209020" stroke-width="1.1"/><path d="M356.5 11.5l5 5" stroke="#b08010" stroke-width="3.2"/><path d="M356.5 11.5l5 5" stroke="#f0d050" stroke-width="1.8"/><circle cx="353" cy="8" r="5.6" fill="#dff2ff" stroke="#3a80c8" stroke-width="1.2"/><path d="M350 8h6" stroke="#4a88b0" stroke-width="2"/><path d="M353 5v6" stroke="#4a88b0" stroke-width="2"/><path d="M384.5 11.5l5 5" stroke="#b08010" stroke-width="3.2"/><path d="M384.5 11.5l5 5" stroke="#f0d050" stroke-width="1.8"/><circle cx="381" cy="8" r="5.6" fill="#dff2ff" stroke="#3a80c8" stroke-width="1.2"/><path d="M378 8h6" stroke="#4a88b0" stroke-width="2"/><rect x="403" y="2" width="8" height="8" fill="#30a020"/><rect x="404" y="5" width="6" height="4" fill="#fff"/><rect x="411" y="2" width="8" height="8" fill="#2050d0"/><rect x="412" y="5" width="6" height="4" fill="#fff"/><rect x="403" y="10" width="8" height="8" fill="#2050d0"/><rect x="404" y="13" width="6" height="4" fill="#fff"/><rect x="411" y="10" width="8" height="8" fill="#30a020"/><rect x="412" y="13" width="6" height="4" fill="#fff"/><path d="M441.5 4v14M439 15.5h13" fill="none" stroke="#505050" stroke-width="1.2"/><path d="M439.8 6 L441.5 3.5 L443.2 6M450 13.8 L452.5 15.5 L450 17.2" fill="#505050" stroke="#505050" stroke-width="0.8"/><polygon points="446.5,6 450,9.5 446.5,13" fill="#60e060" stroke="#10a010" stroke-width="1"/><path d="M469.5 4v14M467 15.5h13" fill="none" stroke="#505050" stroke-width="1.2"/><path d="M467.8 6 L469.5 3.5 L471.2 6M478 13.8 L480.5 15.5 L478 17.2" fill="#505050" stroke="#505050" stroke-width="0.8"/><path d="M475.5 4v10" stroke="#1a70b0" stroke-width="1.2"/><polygon points="476.5,9.5 480,7.5 479,9.5 481,9.5 481,10 479,10 480,12" fill="#e05010"/><rect x="500.5" y="2.5" width="11" height="13" rx="1" fill="#fff" stroke="#606060"/><path d="M504 11 C503 8 504 5 506 5.5M503 8h3" stroke="#404030" fill="none" stroke-width="0.9"/><path d="M508.5 8.5h3v4h4v3h-4v4h-3v-4h-4v-3h4z" fill="#30e030" stroke="#0a8a10" stroke-width="1"/><polygon points="522,9 527,9 524.5,12" fill="#000"/><polygon points="561,9 566,9 563.5,12" fill="#000"/><polygon points="600,9 605,9 602.5,12" fill="#000"/><circle cx="546" cy="9.7" r="7" fill="#f8fbff" stroke="#1a70d0" stroke-width="2.6"/><path d="M545.5 6v4.5h3" stroke="#202020" fill="none" stroke-width="1.2"/><rect x="577.5" y="3.5" width="15" height="13" fill="#fff" stroke="#3a78c8" stroke-width="1"/><rect x="578" y="4" width="14" height="2" fill="#5a98e0"/><rect x="578" y="11" width="14" height="1" fill="#3a78c8"/><path d="M579 9l2 .5 2-1 2 .5 2-1 2 .5 2-1" stroke="#a02010" fill="none" stroke-width="1"/><path d="M579 14.5l2-.5 2 .5 2-1 2-1.5 2 1.5 1.5 1" stroke="#10a010" fill="none" stroke-width="1"/><polygon points="629,3 629,14 631.5,12 633.5,17 635.5,16 633.5,11 637,10.5" fill="#505050"/><path d="M654 10.5h6M663 10.5h6M661.5 3v6M661.5 12v6" stroke="#505050" stroke-width="1.2"/><path d="M695.5 4v13" stroke="#505050" stroke-width="1.2"/><path d="M718 10.5h12" stroke="#505050" stroke-width="1.3"/><path d="M746 16.8l12-12" stroke="#505050" stroke-width="1"/><path d="M772 12l8-8M774 16l8-8M777 17l6-6" stroke="#505050" stroke-width="1" stroke-dasharray="1.5 .8"/><path d="M783 3v9" stroke="#505050"/><text x="783" y="19" font-size="6.5" font-weight="bold" fill="#404040">E</text><path d="M801 3.5h13M801 6.5h13M801 10.5h13M801 14.5h8" stroke="#505050" stroke-width="1" stroke-dasharray="1 1"/><text x="810" y="19" font-size="6.5" font-weight="bold" fill="#404040">F</text><text x="831.5" y="15" font-size="12" fill="#505050" stroke="#505050" stroke-width="0.4">A</text><rect x="858.5" y="4" width="11" height="12.5" fill="none" stroke="#505050" stroke-dasharray="1 1"/><text x="860.5" y="15" font-size="10.5" fill="#505050" stroke="#505050" stroke-width="0.5">T</text><polygon points="889,4 892,6 889,8 886,6" fill="#505050"/><path d="M888 10l2 2 4-4" stroke="#505050" stroke-width="1.4" fill="none"/><polygon points="895.5,12 899,14.5 895.5,17 892,14.5" fill="#505050"/><polygon points="906,9 911,9 908.5,12" fill="#000"/><text x="932.2" y="14" font-size="9.6" fill="#404040" textLength="13.3" lengthAdjust="spacingAndGlyphs" xml:space="preserve">M1</text><text x="960.1" y="14" font-size="9.6" fill="#404040" textLength="13.8" lengthAdjust="spacingAndGlyphs" xml:space="preserve">M5</text><text x="985.9" y="14" font-size="9.6" fill="#404040" textLength="18.7" lengthAdjust="spacingAndGlyphs" xml:space="preserve">M15</text><text x="1014.1" y="14" font-size="9.6" fill="#404040" textLength="18.6" lengthAdjust="spacingAndGlyphs" xml:space="preserve">M30</text><text x="1045.1" y="14" font-size="9.6" fill="#404040" textLength="12.5" lengthAdjust="spacingAndGlyphs" xml:space="preserve">H1</text><text x="1071.7" y="14" font-size="9.6" fill="#404040" textLength="13.6" lengthAdjust="spacingAndGlyphs" xml:space="preserve">H4</text><text x="1101.2" y="14" font-size="9.6" fill="#404040" textLength="12.5" lengthAdjust="spacingAndGlyphs" xml:space="preserve">D1</text><text x="1128.8" y="14" font-size="9.6" fill="#404040" textLength="14.8" lengthAdjust="spacingAndGlyphs" xml:space="preserve">W1</text><text x="1154.9" y="14" font-size="9.6" fill="#404040" textLength="15.6" lengthAdjust="spacingAndGlyphs" xml:space="preserve">MN</text><circle cx="1648.3" cy="7.3" r="3.9" fill="#f4f6ff" stroke="#2050d0" stroke-width="1.6"/><path d="M1645.5 10.3l-3.2 3.4" stroke="#2050d0" stroke-width="2.4" stroke-linecap="round"/><ellipse cx="1671" cy="12" rx="6.2" ry="4.6" fill="#e4e4ec" stroke="#a8a8a8" stroke-width="0.9"/><path d="M1667.5 15.5l-1.5 3.2 3.5-2.4z" fill="#909090"/><circle cx="1679.5" cy="7.6" r="8" fill="#e03a20"/><text x="1679.5" y="11.8" font-size="11.5" font-weight="bold" fill="#fff" text-anchor="middle">1</text></g>
</svg></body></html>
